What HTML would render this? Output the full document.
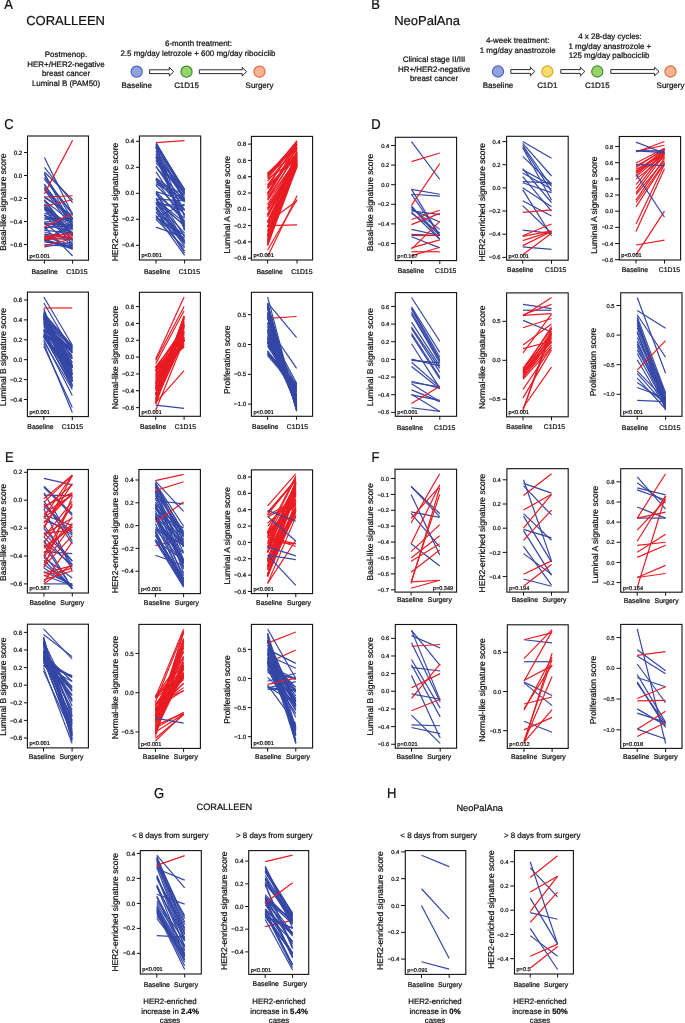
<!DOCTYPE html>
<html><head><meta charset="utf-8"><style>
html,body{margin:0;padding:0;background:#fff;}
svg{display:block;will-change:transform;}
text{text-rendering:geometricPrecision;font-family:"Liberation Sans", sans-serif;fill:#111;stroke:#111;stroke-width:0.22px;}
</style></head><body>
<svg width="685" height="1023" viewBox="0 0 685 1023">
<rect width="685" height="1023" fill="#fff"/>
<text transform="translate(4.2 9.4) scale(1 1.1)" font-size="13">A</text>
<text x="26.20" y="24.90" font-size="13" text-anchor="start">CORALLEEN</text>
<text x="66.00" y="57.20" font-size="7.95" text-anchor="middle">Postmenop.</text>
<text x="66.00" y="66.75" font-size="7.95" text-anchor="middle">HER+/HER2-negative</text>
<text x="66.00" y="76.30" font-size="7.95" text-anchor="middle">breast cancer</text>
<text x="66.00" y="85.85" font-size="7.95" text-anchor="middle">Luminal B (PAM50)</text>
<text x="198.50" y="46.20" font-size="7.95" text-anchor="middle">6-month treatment:</text>
<text x="198.00" y="55.60" font-size="7.95" text-anchor="middle">2.5 mg/day letrozole + 600 mg/day ribociclib</text>
<circle cx="136.7" cy="71.7" r="5.6" fill="#8fa3dc" stroke="#4a62b8" stroke-width="1.1"/>
<circle cx="186.5" cy="71.7" r="5.6" fill="#97d46e" stroke="#3f8a2a" stroke-width="1.1"/>
<circle cx="259.5" cy="71.7" r="5.6" fill="#f4b493" stroke="#e0673a" stroke-width="1.1"/>
<polygon points="149.60,69.80 169.30,69.80 169.30,67.40 173.70,71.70 169.30,76.00 169.30,73.60 149.60,73.60" fill="#fff" stroke="#111" stroke-width="0.9"/>
<polygon points="199.30,69.80 242.20,69.80 242.20,67.40 246.60,71.70 242.20,76.00 242.20,73.60 199.30,73.60" fill="#fff" stroke="#111" stroke-width="0.9"/>
<text x="136.70" y="88.20" font-size="7.95" text-anchor="middle">Baseline</text>
<text x="186.50" y="88.20" font-size="7.95" text-anchor="middle">C1D15</text>
<text x="259.50" y="88.20" font-size="7.95" text-anchor="middle">Surgery</text>
<text transform="translate(371.2 9.4) scale(1 1.1)" font-size="13">B</text>
<text x="394.20" y="25.40" font-size="13" text-anchor="start">NeoPalAna</text>
<text x="434.00" y="62.30" font-size="7.95" text-anchor="middle">Clinical stage II/III</text>
<text x="434.00" y="71.60" font-size="7.95" text-anchor="middle">HR+/HER2-negative</text>
<text x="434.00" y="80.90" font-size="7.95" text-anchor="middle">breast cancer</text>
<text x="517.70" y="42.80" font-size="7.95" text-anchor="middle">4-week treatment:</text>
<text x="517.70" y="52.80" font-size="7.95" text-anchor="middle">1 mg/day anastrozole</text>
<text x="610.00" y="39.10" font-size="7.95" text-anchor="middle">4 x 28-day cycles:</text>
<text x="609.80" y="48.60" font-size="7.95" text-anchor="middle">1 mg/day anastrozole +</text>
<text x="609.00" y="57.90" font-size="7.95" text-anchor="middle">125 mg/day palbociclib</text>
<circle cx="498" cy="71.5" r="5.6" fill="#8fa3dc" stroke="#4a62b8" stroke-width="1.1"/>
<circle cx="547.3" cy="71.5" r="5.6" fill="#f8dc6a" stroke="#d9a520" stroke-width="1.1"/>
<circle cx="597.3" cy="71.5" r="5.6" fill="#97d46e" stroke="#3f8a2a" stroke-width="1.1"/>
<circle cx="670.5" cy="71.5" r="5.6" fill="#f4b493" stroke="#e0673a" stroke-width="1.1"/>
<polygon points="510.80,69.60 530.40,69.60 530.40,67.20 534.80,71.50 530.40,75.80 530.40,73.40 510.80,73.40" fill="#fff" stroke="#111" stroke-width="0.9"/>
<polygon points="560.80,69.60 580.40,69.60 580.40,67.20 584.80,71.50 580.40,75.80 580.40,73.40 560.80,73.40" fill="#fff" stroke="#111" stroke-width="0.9"/>
<polygon points="610.80,69.60 654.60,69.60 654.60,67.20 659.00,71.50 654.60,75.80 654.60,73.40 610.80,73.40" fill="#fff" stroke="#111" stroke-width="0.9"/>
<text x="498.00" y="88.40" font-size="7.95" text-anchor="middle">Baseline</text>
<text x="547.30" y="88.40" font-size="7.95" text-anchor="middle">C1D1</text>
<text x="597.30" y="88.40" font-size="7.95" text-anchor="middle">C1D15</text>
<text x="670.50" y="88.40" font-size="7.95" text-anchor="middle">Surgery</text>
<text transform="translate(4.2 129.4) scale(1 1.1)" font-size="13">C</text>
<text transform="translate(371.3 129.4) scale(1 1.1)" font-size="13">D</text>
<text transform="translate(4.9 461.7) scale(1 1.1)" font-size="13">E</text>
<text transform="translate(371.6 461.9) scale(1 1.1)" font-size="13">F</text>
<text transform="translate(153.9 798.4) scale(1 1.1)" font-size="13">G</text>
<text transform="translate(387.0 798.4) scale(1 1.1)" font-size="13">H</text>
<text x="196.50" y="809.50" font-size="9.2" text-anchor="start">CORALLEEN</text>
<text x="456.40" y="810.50" font-size="9.2" text-anchor="start">NeoPalAna</text>
<text x="170.20" y="838.40" font-size="7.9" text-anchor="middle">&lt; 8 days from surgery</text>
<text x="274.30" y="838.40" font-size="7.9" text-anchor="middle">&gt; 8 days from surgery</text>
<text x="438.60" y="838.40" font-size="7.9" text-anchor="middle">&lt; 8 days from surgery</text>
<text x="542.20" y="838.40" font-size="7.9" text-anchor="middle">&gt; 8 days from surgery</text>
<text x="170.00" y="1003.60" font-size="7.8" text-anchor="middle">HER2-enriched</text>
<text x="170" y="1013.7" font-size="7.8" text-anchor="middle">increase in <tspan font-weight="bold">2.4%</tspan></text>
<text x="170.00" y="1023.20" font-size="7.8" text-anchor="middle">cases</text>
<text x="279.00" y="1003.60" font-size="7.8" text-anchor="middle">HER2-enriched</text>
<text x="279" y="1013.7" font-size="7.8" text-anchor="middle">increase in <tspan font-weight="bold">5.4%</tspan></text>
<text x="279.00" y="1023.20" font-size="7.8" text-anchor="middle">cases</text>
<text x="435.00" y="1003.60" font-size="7.8" text-anchor="middle">HER2-enriched</text>
<text x="435" y="1013.7" font-size="7.8" text-anchor="middle">increase in <tspan font-weight="bold">0%</tspan></text>
<text x="435.00" y="1023.20" font-size="7.8" text-anchor="middle">cases</text>
<text x="540.00" y="1003.60" font-size="7.8" text-anchor="middle">HER2-enriched</text>
<text x="540" y="1013.7" font-size="7.8" text-anchor="middle">increase in <tspan font-weight="bold">50%</tspan></text>
<text x="540.00" y="1023.20" font-size="7.8" text-anchor="middle">cases</text>
<line x1="44.40" y1="227.25" x2="72.60" y2="256.00" stroke="#3447a5" stroke-width="1.2"/>
<line x1="44.40" y1="213.23" x2="72.60" y2="221.98" stroke="#3447a5" stroke-width="1.2"/>
<line x1="44.40" y1="246.80" x2="72.60" y2="242.20" stroke="#3447a5" stroke-width="1.2"/>
<line x1="44.40" y1="172.05" x2="72.60" y2="199.65" stroke="#3447a5" stroke-width="1.2"/>
<line x1="44.40" y1="215.21" x2="72.60" y2="230.03" stroke="#3447a5" stroke-width="1.2"/>
<line x1="44.40" y1="179.11" x2="72.60" y2="214.18" stroke="#3447a5" stroke-width="1.2"/>
<line x1="44.40" y1="207.52" x2="72.60" y2="233.72" stroke="#3447a5" stroke-width="1.2"/>
<line x1="44.40" y1="177.14" x2="72.60" y2="213.70" stroke="#3447a5" stroke-width="1.2"/>
<line x1="44.40" y1="197.55" x2="72.60" y2="215.49" stroke="#3447a5" stroke-width="1.2"/>
<line x1="44.40" y1="200.41" x2="72.60" y2="222.39" stroke="#3447a5" stroke-width="1.2"/>
<line x1="44.40" y1="199.59" x2="72.60" y2="235.86" stroke="#3447a5" stroke-width="1.2"/>
<line x1="44.40" y1="204.86" x2="72.60" y2="228.38" stroke="#3447a5" stroke-width="1.2"/>
<line x1="44.40" y1="219.27" x2="72.60" y2="220.00" stroke="#3447a5" stroke-width="1.2"/>
<line x1="44.40" y1="157.56" x2="72.60" y2="214.60" stroke="#3447a5" stroke-width="1.2"/>
<line x1="44.40" y1="209.49" x2="72.60" y2="244.66" stroke="#3447a5" stroke-width="1.2"/>
<line x1="44.40" y1="222.82" x2="72.60" y2="245.91" stroke="#3447a5" stroke-width="1.2"/>
<line x1="44.40" y1="206.71" x2="72.60" y2="234.97" stroke="#3447a5" stroke-width="1.2"/>
<line x1="44.40" y1="244.50" x2="72.60" y2="246.80" stroke="#3447a5" stroke-width="1.2"/>
<line x1="44.40" y1="235.96" x2="72.60" y2="245.49" stroke="#3447a5" stroke-width="1.2"/>
<line x1="44.40" y1="238.24" x2="72.60" y2="239.65" stroke="#3447a5" stroke-width="1.2"/>
<line x1="44.40" y1="240.50" x2="72.60" y2="223.41" stroke="#3447a5" stroke-width="1.2"/>
<line x1="44.40" y1="234.09" x2="72.60" y2="238.70" stroke="#3447a5" stroke-width="1.2"/>
<line x1="44.40" y1="214.58" x2="72.60" y2="244.07" stroke="#3447a5" stroke-width="1.2"/>
<line x1="44.40" y1="232.03" x2="72.60" y2="240.00" stroke="#3447a5" stroke-width="1.2"/>
<line x1="44.40" y1="234.55" x2="72.60" y2="249.42" stroke="#3447a5" stroke-width="1.2"/>
<line x1="44.40" y1="185.27" x2="72.60" y2="220.10" stroke="#3447a5" stroke-width="1.2"/>
<line x1="44.40" y1="239.50" x2="72.60" y2="247.28" stroke="#3447a5" stroke-width="1.2"/>
<line x1="44.40" y1="201.21" x2="72.60" y2="234.86" stroke="#3447a5" stroke-width="1.2"/>
<line x1="44.40" y1="241.29" x2="72.60" y2="225.81" stroke="#3447a5" stroke-width="1.2"/>
<line x1="44.40" y1="241.91" x2="72.60" y2="245.94" stroke="#3447a5" stroke-width="1.2"/>
<line x1="44.40" y1="236.37" x2="72.60" y2="233.46" stroke="#3447a5" stroke-width="1.2"/>
<line x1="44.40" y1="240.39" x2="72.60" y2="248.81" stroke="#3447a5" stroke-width="1.2"/>
<line x1="44.40" y1="217.13" x2="72.60" y2="219.34" stroke="#3447a5" stroke-width="1.2"/>
<line x1="44.40" y1="223.82" x2="72.60" y2="225.66" stroke="#3447a5" stroke-width="1.2"/>
<line x1="44.40" y1="173.20" x2="72.60" y2="227.25" stroke="#3447a5" stroke-width="1.2"/>
<line x1="44.40" y1="189.69" x2="72.60" y2="228.91" stroke="#3447a5" stroke-width="1.2"/>
<line x1="44.40" y1="229.10" x2="72.60" y2="218.46" stroke="#3447a5" stroke-width="1.2"/>
<line x1="44.40" y1="184.12" x2="72.60" y2="226.44" stroke="#3447a5" stroke-width="1.2"/>
<line x1="44.40" y1="204.68" x2="72.60" y2="236.05" stroke="#3447a5" stroke-width="1.2"/>
<line x1="44.40" y1="196.27" x2="72.60" y2="217.74" stroke="#3447a5" stroke-width="1.2"/>
<line x1="44.40" y1="224.52" x2="72.60" y2="232.26" stroke="#3447a5" stroke-width="1.2"/>
<line x1="44.40" y1="174.35" x2="72.60" y2="219.20" stroke="#3447a5" stroke-width="1.2"/>
<line x1="44.40" y1="227.66" x2="72.60" y2="225.64" stroke="#3447a5" stroke-width="1.2"/>
<line x1="44.40" y1="230.29" x2="72.60" y2="232.80" stroke="#3447a5" stroke-width="1.2"/>
<line x1="44.40" y1="188.19" x2="72.60" y2="224.66" stroke="#3447a5" stroke-width="1.2"/>
<line x1="44.40" y1="204.10" x2="72.60" y2="233.26" stroke="#3447a5" stroke-width="1.2"/>
<line x1="44.40" y1="204.37" x2="72.60" y2="239.78" stroke="#3447a5" stroke-width="1.2"/>
<line x1="44.40" y1="208.26" x2="72.60" y2="241.14" stroke="#3447a5" stroke-width="1.2"/>
<line x1="44.40" y1="215.00" x2="72.60" y2="229.16" stroke="#3447a5" stroke-width="1.2"/>
<line x1="44.40" y1="239.68" x2="72.60" y2="248.02" stroke="#3447a5" stroke-width="1.2"/>
<line x1="44.40" y1="222.16" x2="72.60" y2="218.18" stroke="#3447a5" stroke-width="1.2"/>
<line x1="44.40" y1="240.17" x2="72.60" y2="248.08" stroke="#3447a5" stroke-width="1.2"/>
<line x1="44.40" y1="187.45" x2="72.60" y2="222.11" stroke="#3447a5" stroke-width="1.2"/>
<line x1="44.40" y1="218.80" x2="72.60" y2="218.03" stroke="#3447a5" stroke-width="1.2"/>
<line x1="44.40" y1="167.45" x2="72.60" y2="202.53" stroke="#3447a5" stroke-width="1.2"/>
<line x1="44.40" y1="223.21" x2="72.60" y2="224.44" stroke="#3447a5" stroke-width="1.2"/>
<line x1="44.40" y1="227.13" x2="72.60" y2="213.56" stroke="#ea1b23" stroke-width="1.2"/>
<line x1="44.40" y1="238.18" x2="72.60" y2="235.76" stroke="#ea1b23" stroke-width="1.2"/>
<line x1="44.40" y1="236.45" x2="72.60" y2="233.34" stroke="#ea1b23" stroke-width="1.2"/>
<line x1="44.40" y1="245.65" x2="72.60" y2="238.75" stroke="#ea1b23" stroke-width="1.2"/>
<line x1="44.40" y1="237.60" x2="72.60" y2="233.00" stroke="#ea1b23" stroke-width="1.2"/>
<line x1="44.40" y1="206.21" x2="72.60" y2="199.76" stroke="#ea1b23" stroke-width="1.2"/>
<line x1="44.40" y1="239.90" x2="72.60" y2="237.03" stroke="#ea1b23" stroke-width="1.2"/>
<line x1="44.40" y1="197.00" x2="72.60" y2="195.74" stroke="#ea1b23" stroke-width="1.2"/>
<line x1="44.40" y1="193.90" x2="72.60" y2="140.31" stroke="#ea1b23" stroke-width="1.2"/>
<rect x="27.50" y="136.00" width="61.00" height="124.20" fill="none" stroke="#111" stroke-width="1.1"/>
<line x1="24.00" y1="152.50" x2="27.50" y2="152.50" stroke="#111" stroke-width="1.0"/>
<text x="22.30" y="154.60" font-size="6.2" text-anchor="end">0.2</text>
<line x1="24.00" y1="175.50" x2="27.50" y2="175.50" stroke="#111" stroke-width="1.0"/>
<text x="22.30" y="177.60" font-size="6.2" text-anchor="end">0.0</text>
<line x1="24.00" y1="198.50" x2="27.50" y2="198.50" stroke="#111" stroke-width="1.0"/>
<text x="22.30" y="200.60" font-size="6.2" text-anchor="end">−0.2</text>
<line x1="24.00" y1="221.50" x2="27.50" y2="221.50" stroke="#111" stroke-width="1.0"/>
<text x="22.30" y="223.60" font-size="6.2" text-anchor="end">−0.4</text>
<line x1="24.00" y1="244.50" x2="27.50" y2="244.50" stroke="#111" stroke-width="1.0"/>
<text x="22.30" y="246.60" font-size="6.2" text-anchor="end">−0.6</text>
<line x1="44.40" y1="260.20" x2="44.40" y2="263.70" stroke="#111" stroke-width="1.0"/>
<line x1="72.60" y1="260.20" x2="72.60" y2="263.70" stroke="#111" stroke-width="1.0"/>
<text x="44.65" y="273.60" font-size="6.85" text-anchor="middle">Baseline</text>
<text x="77.00" y="273.60" font-size="6.85" text-anchor="middle">C1D15</text>
<text x="6.40" y="202.10" font-size="8.5" text-anchor="middle" transform="rotate(-90 6.40 202.10)">Basal-like signature score</text>
<text x="29.50" y="257.60" font-size="5.6" text-anchor="start">p&lt;0.001</text>
<line x1="156.00" y1="153.64" x2="184.60" y2="229.26" stroke="#3447a5" stroke-width="1.2"/>
<line x1="156.00" y1="193.24" x2="184.60" y2="242.17" stroke="#3447a5" stroke-width="1.2"/>
<line x1="156.00" y1="158.00" x2="184.60" y2="189.95" stroke="#3447a5" stroke-width="1.2"/>
<line x1="156.00" y1="203.76" x2="184.60" y2="243.46" stroke="#3447a5" stroke-width="1.2"/>
<line x1="156.00" y1="154.46" x2="184.60" y2="193.83" stroke="#3447a5" stroke-width="1.2"/>
<line x1="156.00" y1="183.86" x2="184.60" y2="199.15" stroke="#3447a5" stroke-width="1.2"/>
<line x1="156.00" y1="219.30" x2="184.60" y2="247.90" stroke="#3447a5" stroke-width="1.2"/>
<line x1="156.00" y1="157.07" x2="184.60" y2="199.17" stroke="#3447a5" stroke-width="1.2"/>
<line x1="156.00" y1="178.80" x2="184.60" y2="209.93" stroke="#3447a5" stroke-width="1.2"/>
<line x1="156.00" y1="144.16" x2="184.60" y2="189.35" stroke="#3447a5" stroke-width="1.2"/>
<line x1="156.00" y1="202.06" x2="184.60" y2="225.11" stroke="#3447a5" stroke-width="1.2"/>
<line x1="156.00" y1="204.34" x2="184.60" y2="205.63" stroke="#3447a5" stroke-width="1.2"/>
<line x1="156.00" y1="217.18" x2="184.60" y2="238.36" stroke="#3447a5" stroke-width="1.2"/>
<line x1="156.00" y1="206.60" x2="184.60" y2="246.40" stroke="#3447a5" stroke-width="1.2"/>
<line x1="156.00" y1="179.13" x2="184.60" y2="210.42" stroke="#3447a5" stroke-width="1.2"/>
<line x1="156.00" y1="227.10" x2="184.60" y2="237.50" stroke="#3447a5" stroke-width="1.2"/>
<line x1="156.00" y1="144.40" x2="184.60" y2="191.49" stroke="#3447a5" stroke-width="1.2"/>
<line x1="156.00" y1="212.77" x2="184.60" y2="235.28" stroke="#3447a5" stroke-width="1.2"/>
<line x1="156.00" y1="146.98" x2="184.60" y2="230.62" stroke="#3447a5" stroke-width="1.2"/>
<line x1="156.00" y1="146.56" x2="184.60" y2="226.59" stroke="#3447a5" stroke-width="1.2"/>
<line x1="156.00" y1="142.60" x2="184.60" y2="140.65" stroke="#ea1b23" stroke-width="1.2"/>
<line x1="156.00" y1="163.03" x2="184.60" y2="192.33" stroke="#3447a5" stroke-width="1.2"/>
<line x1="156.00" y1="166.35" x2="184.60" y2="209.72" stroke="#3447a5" stroke-width="1.2"/>
<line x1="156.00" y1="191.57" x2="184.60" y2="200.43" stroke="#3447a5" stroke-width="1.2"/>
<line x1="156.00" y1="199.59" x2="184.60" y2="226.23" stroke="#3447a5" stroke-width="1.2"/>
<line x1="156.00" y1="160.59" x2="184.60" y2="196.27" stroke="#3447a5" stroke-width="1.2"/>
<line x1="156.00" y1="157.58" x2="184.60" y2="224.17" stroke="#3447a5" stroke-width="1.2"/>
<line x1="156.00" y1="215.40" x2="184.60" y2="255.44" stroke="#3447a5" stroke-width="1.2"/>
<line x1="156.00" y1="182.50" x2="184.60" y2="194.20" stroke="#3447a5" stroke-width="1.2"/>
<line x1="156.00" y1="217.54" x2="184.60" y2="242.49" stroke="#3447a5" stroke-width="1.2"/>
<line x1="156.00" y1="211.53" x2="184.60" y2="250.89" stroke="#3447a5" stroke-width="1.2"/>
<line x1="156.00" y1="156.27" x2="184.60" y2="189.91" stroke="#3447a5" stroke-width="1.2"/>
<line x1="156.00" y1="166.63" x2="184.60" y2="201.97" stroke="#3447a5" stroke-width="1.2"/>
<line x1="156.00" y1="194.23" x2="184.60" y2="218.26" stroke="#3447a5" stroke-width="1.2"/>
<line x1="156.00" y1="148.04" x2="184.60" y2="200.79" stroke="#3447a5" stroke-width="1.2"/>
<line x1="156.00" y1="142.60" x2="184.60" y2="190.70" stroke="#3447a5" stroke-width="1.2"/>
<line x1="156.00" y1="198.05" x2="184.60" y2="243.45" stroke="#3447a5" stroke-width="1.2"/>
<line x1="156.00" y1="185.29" x2="184.60" y2="214.44" stroke="#3447a5" stroke-width="1.2"/>
<line x1="156.00" y1="191.41" x2="184.60" y2="221.26" stroke="#3447a5" stroke-width="1.2"/>
<line x1="156.00" y1="208.15" x2="184.60" y2="240.43" stroke="#3447a5" stroke-width="1.2"/>
<line x1="156.00" y1="207.02" x2="184.60" y2="243.71" stroke="#3447a5" stroke-width="1.2"/>
<line x1="156.00" y1="177.99" x2="184.60" y2="198.26" stroke="#3447a5" stroke-width="1.2"/>
<line x1="156.00" y1="202.34" x2="184.60" y2="210.21" stroke="#3447a5" stroke-width="1.2"/>
<line x1="156.00" y1="179.93" x2="184.60" y2="221.35" stroke="#3447a5" stroke-width="1.2"/>
<line x1="156.00" y1="199.44" x2="184.60" y2="222.62" stroke="#3447a5" stroke-width="1.2"/>
<line x1="156.00" y1="199.17" x2="184.60" y2="200.86" stroke="#3447a5" stroke-width="1.2"/>
<line x1="156.00" y1="217.24" x2="184.60" y2="204.02" stroke="#3447a5" stroke-width="1.2"/>
<line x1="156.00" y1="160.05" x2="184.60" y2="193.85" stroke="#3447a5" stroke-width="1.2"/>
<line x1="156.00" y1="202.05" x2="184.60" y2="240.97" stroke="#3447a5" stroke-width="1.2"/>
<line x1="156.00" y1="144.88" x2="184.60" y2="194.16" stroke="#3447a5" stroke-width="1.2"/>
<line x1="156.00" y1="171.84" x2="184.60" y2="214.64" stroke="#3447a5" stroke-width="1.2"/>
<line x1="156.00" y1="179.14" x2="184.60" y2="201.53" stroke="#3447a5" stroke-width="1.2"/>
<line x1="156.00" y1="208.90" x2="184.60" y2="253.10" stroke="#3447a5" stroke-width="1.2"/>
<line x1="156.00" y1="145.20" x2="184.60" y2="199.80" stroke="#3447a5" stroke-width="1.2"/>
<line x1="156.00" y1="146.67" x2="184.60" y2="216.85" stroke="#3447a5" stroke-width="1.2"/>
<line x1="156.00" y1="202.53" x2="184.60" y2="233.14" stroke="#3447a5" stroke-width="1.2"/>
<line x1="156.00" y1="192.26" x2="184.60" y2="236.48" stroke="#3447a5" stroke-width="1.2"/>
<line x1="156.00" y1="217.10" x2="184.60" y2="235.76" stroke="#3447a5" stroke-width="1.2"/>
<line x1="156.00" y1="150.83" x2="184.60" y2="229.48" stroke="#3447a5" stroke-width="1.2"/>
<rect x="139.40" y="136.00" width="61.30" height="124.00" fill="none" stroke="#111" stroke-width="1.1"/>
<line x1="135.90" y1="141.30" x2="139.40" y2="141.30" stroke="#111" stroke-width="1.0"/>
<text x="134.20" y="143.40" font-size="6.2" text-anchor="end">0.4</text>
<line x1="135.90" y1="167.30" x2="139.40" y2="167.30" stroke="#111" stroke-width="1.0"/>
<text x="134.20" y="169.40" font-size="6.2" text-anchor="end">0.2</text>
<line x1="135.90" y1="193.30" x2="139.40" y2="193.30" stroke="#111" stroke-width="1.0"/>
<text x="134.20" y="195.40" font-size="6.2" text-anchor="end">0.0</text>
<line x1="135.90" y1="219.30" x2="139.40" y2="219.30" stroke="#111" stroke-width="1.0"/>
<text x="134.20" y="221.40" font-size="6.2" text-anchor="end">−0.2</text>
<line x1="135.90" y1="245.30" x2="139.40" y2="245.30" stroke="#111" stroke-width="1.0"/>
<text x="134.20" y="247.40" font-size="6.2" text-anchor="end">−0.4</text>
<line x1="156.00" y1="260.00" x2="156.00" y2="263.50" stroke="#111" stroke-width="1.0"/>
<line x1="184.60" y1="260.00" x2="184.60" y2="263.50" stroke="#111" stroke-width="1.0"/>
<text x="157.10" y="273.50" font-size="6.85" text-anchor="middle">Baseline</text>
<text x="189.30" y="273.50" font-size="6.85" text-anchor="middle">C1D15</text>
<text x="118.30" y="202.00" font-size="8.5" text-anchor="middle" transform="rotate(-90 118.30 202.00)">HER2-enriched signature score</text>
<text x="141.40" y="257.40" font-size="5.6" text-anchor="start">p&lt;0.001</text>
<line x1="267.60" y1="214.65" x2="297.00" y2="165.04" stroke="#ea1b23" stroke-width="1.2"/>
<line x1="267.60" y1="215.11" x2="297.00" y2="155.40" stroke="#ea1b23" stroke-width="1.2"/>
<line x1="267.60" y1="241.40" x2="297.00" y2="165.47" stroke="#ea1b23" stroke-width="1.2"/>
<line x1="267.60" y1="226.64" x2="297.00" y2="160.57" stroke="#ea1b23" stroke-width="1.2"/>
<line x1="267.60" y1="199.53" x2="297.00" y2="152.88" stroke="#ea1b23" stroke-width="1.2"/>
<line x1="267.60" y1="236.14" x2="297.00" y2="161.54" stroke="#ea1b23" stroke-width="1.2"/>
<line x1="267.60" y1="232.21" x2="297.00" y2="158.61" stroke="#ea1b23" stroke-width="1.2"/>
<line x1="267.60" y1="243.84" x2="297.00" y2="154.83" stroke="#ea1b23" stroke-width="1.2"/>
<line x1="267.60" y1="245.34" x2="297.00" y2="156.13" stroke="#ea1b23" stroke-width="1.2"/>
<line x1="267.60" y1="235.66" x2="297.00" y2="164.09" stroke="#ea1b23" stroke-width="1.2"/>
<line x1="267.60" y1="197.61" x2="297.00" y2="153.42" stroke="#ea1b23" stroke-width="1.2"/>
<line x1="267.60" y1="215.34" x2="297.00" y2="162.57" stroke="#ea1b23" stroke-width="1.2"/>
<line x1="267.60" y1="194.62" x2="297.00" y2="148.59" stroke="#ea1b23" stroke-width="1.2"/>
<line x1="267.60" y1="174.41" x2="297.00" y2="142.22" stroke="#ea1b23" stroke-width="1.2"/>
<line x1="267.60" y1="242.00" x2="297.00" y2="165.14" stroke="#ea1b23" stroke-width="1.2"/>
<line x1="267.60" y1="176.89" x2="297.00" y2="140.74" stroke="#ea1b23" stroke-width="1.2"/>
<line x1="267.60" y1="208.63" x2="297.00" y2="157.66" stroke="#ea1b23" stroke-width="1.2"/>
<line x1="267.60" y1="217.12" x2="297.00" y2="156.44" stroke="#ea1b23" stroke-width="1.2"/>
<line x1="267.60" y1="234.76" x2="297.00" y2="152.18" stroke="#ea1b23" stroke-width="1.2"/>
<line x1="267.60" y1="238.98" x2="297.00" y2="161.87" stroke="#ea1b23" stroke-width="1.2"/>
<line x1="267.60" y1="178.32" x2="297.00" y2="143.93" stroke="#ea1b23" stroke-width="1.2"/>
<line x1="267.60" y1="208.38" x2="297.00" y2="163.46" stroke="#ea1b23" stroke-width="1.2"/>
<line x1="267.60" y1="222.34" x2="297.00" y2="200.74" stroke="#ea1b23" stroke-width="1.2"/>
<line x1="267.60" y1="200.31" x2="297.00" y2="159.19" stroke="#ea1b23" stroke-width="1.2"/>
<line x1="267.60" y1="213.98" x2="297.00" y2="160.25" stroke="#ea1b23" stroke-width="1.2"/>
<line x1="267.60" y1="187.08" x2="297.00" y2="142.01" stroke="#ea1b23" stroke-width="1.2"/>
<line x1="267.60" y1="193.00" x2="297.00" y2="144.68" stroke="#ea1b23" stroke-width="1.2"/>
<line x1="267.60" y1="223.06" x2="297.00" y2="165.58" stroke="#ea1b23" stroke-width="1.2"/>
<line x1="267.60" y1="185.78" x2="297.00" y2="157.67" stroke="#ea1b23" stroke-width="1.2"/>
<line x1="267.60" y1="181.03" x2="297.00" y2="147.17" stroke="#ea1b23" stroke-width="1.2"/>
<line x1="267.60" y1="256.57" x2="297.00" y2="195.69" stroke="#ea1b23" stroke-width="1.2"/>
<line x1="267.60" y1="221.53" x2="297.00" y2="157.79" stroke="#ea1b23" stroke-width="1.2"/>
<line x1="267.60" y1="230.43" x2="297.00" y2="164.00" stroke="#ea1b23" stroke-width="1.2"/>
<line x1="267.60" y1="227.01" x2="297.00" y2="162.18" stroke="#ea1b23" stroke-width="1.2"/>
<line x1="267.60" y1="245.44" x2="297.00" y2="166.51" stroke="#ea1b23" stroke-width="1.2"/>
<line x1="267.60" y1="195.52" x2="297.00" y2="147.38" stroke="#ea1b23" stroke-width="1.2"/>
<line x1="267.60" y1="205.52" x2="297.00" y2="163.48" stroke="#ea1b23" stroke-width="1.2"/>
<line x1="267.60" y1="188.76" x2="297.00" y2="153.59" stroke="#ea1b23" stroke-width="1.2"/>
<line x1="267.60" y1="235.29" x2="297.00" y2="152.23" stroke="#ea1b23" stroke-width="1.2"/>
<line x1="267.60" y1="250.05" x2="297.00" y2="199.52" stroke="#ea1b23" stroke-width="1.2"/>
<line x1="267.60" y1="173.05" x2="297.00" y2="146.68" stroke="#ea1b23" stroke-width="1.2"/>
<line x1="267.60" y1="188.06" x2="297.00" y2="153.73" stroke="#ea1b23" stroke-width="1.2"/>
<line x1="267.60" y1="173.41" x2="297.00" y2="154.27" stroke="#ea1b23" stroke-width="1.2"/>
<line x1="267.60" y1="227.53" x2="297.00" y2="149.97" stroke="#ea1b23" stroke-width="1.2"/>
<line x1="267.60" y1="174.72" x2="297.00" y2="144.10" stroke="#ea1b23" stroke-width="1.2"/>
<line x1="267.60" y1="178.90" x2="297.00" y2="158.79" stroke="#ea1b23" stroke-width="1.2"/>
<line x1="267.60" y1="225.60" x2="297.00" y2="224.79" stroke="#ea1b23" stroke-width="1.2"/>
<line x1="267.60" y1="237.14" x2="297.00" y2="166.44" stroke="#ea1b23" stroke-width="1.2"/>
<line x1="267.60" y1="222.10" x2="297.00" y2="160.11" stroke="#ea1b23" stroke-width="1.2"/>
<line x1="267.60" y1="204.29" x2="297.00" y2="157.88" stroke="#ea1b23" stroke-width="1.2"/>
<line x1="267.60" y1="175.84" x2="297.00" y2="145.10" stroke="#ea1b23" stroke-width="1.2"/>
<line x1="267.60" y1="240.13" x2="297.00" y2="164.69" stroke="#ea1b23" stroke-width="1.2"/>
<line x1="267.60" y1="242.50" x2="297.00" y2="159.78" stroke="#ea1b23" stroke-width="1.2"/>
<line x1="267.60" y1="210.49" x2="297.00" y2="162.62" stroke="#ea1b23" stroke-width="1.2"/>
<line x1="267.60" y1="193.45" x2="297.00" y2="148.09" stroke="#ea1b23" stroke-width="1.2"/>
<line x1="267.60" y1="184.78" x2="297.00" y2="144.74" stroke="#ea1b23" stroke-width="1.2"/>
<rect x="251.40" y="136.40" width="61.20" height="123.60" fill="none" stroke="#111" stroke-width="1.1"/>
<line x1="247.90" y1="144.10" x2="251.40" y2="144.10" stroke="#111" stroke-width="1.0"/>
<text x="246.20" y="146.20" font-size="6.2" text-anchor="end">0.8</text>
<line x1="247.90" y1="160.40" x2="251.40" y2="160.40" stroke="#111" stroke-width="1.0"/>
<text x="246.20" y="162.50" font-size="6.2" text-anchor="end">0.6</text>
<line x1="247.90" y1="176.70" x2="251.40" y2="176.70" stroke="#111" stroke-width="1.0"/>
<text x="246.20" y="178.80" font-size="6.2" text-anchor="end">0.4</text>
<line x1="247.90" y1="193.00" x2="251.40" y2="193.00" stroke="#111" stroke-width="1.0"/>
<text x="246.20" y="195.10" font-size="6.2" text-anchor="end">0.2</text>
<line x1="247.90" y1="209.30" x2="251.40" y2="209.30" stroke="#111" stroke-width="1.0"/>
<text x="246.20" y="211.40" font-size="6.2" text-anchor="end">0.0</text>
<line x1="247.90" y1="225.60" x2="251.40" y2="225.60" stroke="#111" stroke-width="1.0"/>
<text x="246.20" y="227.70" font-size="6.2" text-anchor="end">−0.2</text>
<line x1="247.90" y1="241.90" x2="251.40" y2="241.90" stroke="#111" stroke-width="1.0"/>
<text x="246.20" y="244.00" font-size="6.2" text-anchor="end">−0.4</text>
<line x1="247.90" y1="258.20" x2="251.40" y2="258.20" stroke="#111" stroke-width="1.0"/>
<text x="246.20" y="260.30" font-size="6.2" text-anchor="end">−0.6</text>
<line x1="267.60" y1="260.00" x2="267.60" y2="263.50" stroke="#111" stroke-width="1.0"/>
<line x1="297.00" y1="260.00" x2="297.00" y2="263.50" stroke="#111" stroke-width="1.0"/>
<text x="269.65" y="273.50" font-size="6.85" text-anchor="middle">Baseline</text>
<text x="301.80" y="273.50" font-size="6.85" text-anchor="middle">C1D15</text>
<text x="230.30" y="204.70" font-size="8.5" text-anchor="middle" transform="rotate(-90 230.30 204.70)">Luminal A signature score</text>
<text x="253.40" y="257.40" font-size="5.6" text-anchor="start">p&lt;0.001</text>
<line x1="43.80" y1="315.73" x2="72.30" y2="380.78" stroke="#3447a5" stroke-width="1.2"/>
<line x1="43.80" y1="334.82" x2="72.30" y2="387.56" stroke="#3447a5" stroke-width="1.2"/>
<line x1="43.80" y1="339.80" x2="72.30" y2="395.52" stroke="#3447a5" stroke-width="1.2"/>
<line x1="43.80" y1="317.49" x2="72.30" y2="346.66" stroke="#3447a5" stroke-width="1.2"/>
<line x1="43.80" y1="322.75" x2="72.30" y2="366.73" stroke="#3447a5" stroke-width="1.2"/>
<line x1="43.80" y1="318.13" x2="72.30" y2="370.54" stroke="#3447a5" stroke-width="1.2"/>
<line x1="43.80" y1="335.50" x2="72.30" y2="374.74" stroke="#3447a5" stroke-width="1.2"/>
<line x1="43.80" y1="323.51" x2="72.30" y2="365.19" stroke="#3447a5" stroke-width="1.2"/>
<line x1="43.80" y1="319.12" x2="72.30" y2="381.73" stroke="#3447a5" stroke-width="1.2"/>
<line x1="43.80" y1="335.84" x2="72.30" y2="385.55" stroke="#3447a5" stroke-width="1.2"/>
<line x1="43.80" y1="320.86" x2="72.30" y2="372.53" stroke="#3447a5" stroke-width="1.2"/>
<line x1="43.80" y1="314.00" x2="72.30" y2="374.25" stroke="#3447a5" stroke-width="1.2"/>
<line x1="43.80" y1="317.75" x2="72.30" y2="352.33" stroke="#3447a5" stroke-width="1.2"/>
<line x1="43.80" y1="322.80" x2="72.30" y2="353.12" stroke="#3447a5" stroke-width="1.2"/>
<line x1="43.80" y1="317.40" x2="72.30" y2="357.48" stroke="#3447a5" stroke-width="1.2"/>
<line x1="43.80" y1="343.78" x2="72.30" y2="412.44" stroke="#3447a5" stroke-width="1.2"/>
<line x1="43.80" y1="327.04" x2="72.30" y2="349.94" stroke="#3447a5" stroke-width="1.2"/>
<line x1="43.80" y1="315.62" x2="72.30" y2="375.61" stroke="#3447a5" stroke-width="1.2"/>
<line x1="43.80" y1="330.95" x2="72.30" y2="381.16" stroke="#3447a5" stroke-width="1.2"/>
<line x1="43.80" y1="316.04" x2="72.30" y2="367.54" stroke="#3447a5" stroke-width="1.2"/>
<line x1="43.80" y1="313.14" x2="72.30" y2="345.82" stroke="#3447a5" stroke-width="1.2"/>
<line x1="43.80" y1="323.07" x2="72.30" y2="386.42" stroke="#3447a5" stroke-width="1.2"/>
<line x1="43.80" y1="328.72" x2="72.30" y2="359.00" stroke="#3447a5" stroke-width="1.2"/>
<line x1="43.80" y1="319.39" x2="72.30" y2="347.99" stroke="#3447a5" stroke-width="1.2"/>
<line x1="43.80" y1="331.68" x2="72.30" y2="366.51" stroke="#3447a5" stroke-width="1.2"/>
<line x1="43.80" y1="329.79" x2="72.30" y2="352.29" stroke="#3447a5" stroke-width="1.2"/>
<line x1="43.80" y1="317.43" x2="72.30" y2="373.67" stroke="#3447a5" stroke-width="1.2"/>
<line x1="43.80" y1="330.28" x2="72.30" y2="368.18" stroke="#3447a5" stroke-width="1.2"/>
<line x1="43.80" y1="329.85" x2="72.30" y2="384.57" stroke="#3447a5" stroke-width="1.2"/>
<line x1="43.80" y1="317.11" x2="72.30" y2="362.53" stroke="#3447a5" stroke-width="1.2"/>
<line x1="43.80" y1="297.01" x2="72.30" y2="344.97" stroke="#3447a5" stroke-width="1.2"/>
<line x1="43.80" y1="318.62" x2="72.30" y2="367.84" stroke="#3447a5" stroke-width="1.2"/>
<line x1="43.80" y1="320.38" x2="72.30" y2="385.85" stroke="#3447a5" stroke-width="1.2"/>
<line x1="43.80" y1="313.79" x2="72.30" y2="347.07" stroke="#3447a5" stroke-width="1.2"/>
<line x1="43.80" y1="311.16" x2="72.30" y2="374.70" stroke="#3447a5" stroke-width="1.2"/>
<line x1="43.80" y1="346.27" x2="72.30" y2="407.46" stroke="#3447a5" stroke-width="1.2"/>
<line x1="43.80" y1="330.23" x2="72.30" y2="348.37" stroke="#3447a5" stroke-width="1.2"/>
<line x1="43.80" y1="321.83" x2="72.30" y2="353.10" stroke="#3447a5" stroke-width="1.2"/>
<line x1="43.80" y1="337.71" x2="72.30" y2="371.38" stroke="#3447a5" stroke-width="1.2"/>
<line x1="43.80" y1="302.99" x2="72.30" y2="351.74" stroke="#3447a5" stroke-width="1.2"/>
<line x1="43.80" y1="314.92" x2="72.30" y2="362.84" stroke="#3447a5" stroke-width="1.2"/>
<line x1="43.80" y1="337.44" x2="72.30" y2="367.61" stroke="#3447a5" stroke-width="1.2"/>
<line x1="43.80" y1="312.86" x2="72.30" y2="380.82" stroke="#3447a5" stroke-width="1.2"/>
<line x1="43.80" y1="336.88" x2="72.30" y2="377.97" stroke="#3447a5" stroke-width="1.2"/>
<line x1="43.80" y1="333.84" x2="72.30" y2="378.00" stroke="#3447a5" stroke-width="1.2"/>
<line x1="43.80" y1="307.96" x2="72.30" y2="307.96" stroke="#ea1b23" stroke-width="1.2"/>
<line x1="43.80" y1="315.82" x2="72.30" y2="378.44" stroke="#3447a5" stroke-width="1.2"/>
<line x1="43.80" y1="321.14" x2="72.30" y2="357.87" stroke="#3447a5" stroke-width="1.2"/>
<line x1="43.80" y1="326.39" x2="72.30" y2="348.77" stroke="#3447a5" stroke-width="1.2"/>
<line x1="43.80" y1="341.79" x2="72.30" y2="389.55" stroke="#3447a5" stroke-width="1.2"/>
<line x1="43.80" y1="336.00" x2="72.30" y2="386.49" stroke="#3447a5" stroke-width="1.2"/>
<line x1="43.80" y1="317.15" x2="72.30" y2="368.23" stroke="#3447a5" stroke-width="1.2"/>
<line x1="43.80" y1="315.47" x2="72.30" y2="347.70" stroke="#3447a5" stroke-width="1.2"/>
<line x1="43.80" y1="312.89" x2="72.30" y2="365.49" stroke="#3447a5" stroke-width="1.2"/>
<line x1="43.80" y1="329.88" x2="72.30" y2="350.11" stroke="#3447a5" stroke-width="1.2"/>
<line x1="43.80" y1="323.20" x2="72.30" y2="355.94" stroke="#3447a5" stroke-width="1.2"/>
<line x1="43.80" y1="319.07" x2="72.30" y2="365.81" stroke="#3447a5" stroke-width="1.2"/>
<line x1="43.80" y1="334.68" x2="72.30" y2="349.79" stroke="#3447a5" stroke-width="1.2"/>
<line x1="43.80" y1="335.59" x2="72.30" y2="350.39" stroke="#3447a5" stroke-width="1.2"/>
<line x1="43.80" y1="308.68" x2="72.30" y2="381.67" stroke="#3447a5" stroke-width="1.2"/>
<line x1="43.80" y1="333.41" x2="72.30" y2="377.13" stroke="#3447a5" stroke-width="1.2"/>
<line x1="43.80" y1="324.88" x2="72.30" y2="379.60" stroke="#3447a5" stroke-width="1.2"/>
<rect x="27.40" y="292.10" width="61.00" height="124.50" fill="none" stroke="#111" stroke-width="1.1"/>
<line x1="23.90" y1="300.00" x2="27.40" y2="300.00" stroke="#111" stroke-width="1.0"/>
<text x="22.20" y="302.10" font-size="6.2" text-anchor="end">0.6</text>
<line x1="23.90" y1="319.90" x2="27.40" y2="319.90" stroke="#111" stroke-width="1.0"/>
<text x="22.20" y="322.00" font-size="6.2" text-anchor="end">0.4</text>
<line x1="23.90" y1="339.80" x2="27.40" y2="339.80" stroke="#111" stroke-width="1.0"/>
<text x="22.20" y="341.90" font-size="6.2" text-anchor="end">0.2</text>
<line x1="23.90" y1="359.70" x2="27.40" y2="359.70" stroke="#111" stroke-width="1.0"/>
<text x="22.20" y="361.80" font-size="6.2" text-anchor="end">0.0</text>
<line x1="23.90" y1="379.60" x2="27.40" y2="379.60" stroke="#111" stroke-width="1.0"/>
<text x="22.20" y="381.70" font-size="6.2" text-anchor="end">−0.2</text>
<line x1="23.90" y1="399.50" x2="27.40" y2="399.50" stroke="#111" stroke-width="1.0"/>
<text x="22.20" y="401.60" font-size="6.2" text-anchor="end">−0.4</text>
<line x1="43.80" y1="416.60" x2="43.80" y2="420.10" stroke="#111" stroke-width="1.0"/>
<line x1="72.30" y1="416.60" x2="72.30" y2="420.10" stroke="#111" stroke-width="1.0"/>
<text x="40.45" y="429.10" font-size="6.85" text-anchor="middle">Baseline</text>
<text x="72.45" y="429.10" font-size="6.85" text-anchor="middle">C1D15</text>
<text x="6.30" y="357.05" font-size="8.5" text-anchor="middle" transform="rotate(-90 6.30 357.05)">Luminal B signature score</text>
<text x="29.40" y="414.00" font-size="5.6" text-anchor="start">p&lt;0.001</text>
<line x1="155.70" y1="373.95" x2="184.10" y2="337.31" stroke="#ea1b23" stroke-width="1.2"/>
<line x1="155.70" y1="398.27" x2="184.10" y2="318.77" stroke="#ea1b23" stroke-width="1.2"/>
<line x1="155.70" y1="360.47" x2="184.10" y2="306.58" stroke="#ea1b23" stroke-width="1.2"/>
<line x1="155.70" y1="381.51" x2="184.10" y2="333.78" stroke="#ea1b23" stroke-width="1.2"/>
<line x1="155.70" y1="379.87" x2="184.10" y2="343.27" stroke="#ea1b23" stroke-width="1.2"/>
<line x1="155.70" y1="395.89" x2="184.10" y2="339.93" stroke="#ea1b23" stroke-width="1.2"/>
<line x1="155.70" y1="386.54" x2="184.10" y2="337.64" stroke="#ea1b23" stroke-width="1.2"/>
<line x1="155.70" y1="369.56" x2="184.10" y2="347.08" stroke="#ea1b23" stroke-width="1.2"/>
<line x1="155.70" y1="376.77" x2="184.10" y2="327.93" stroke="#ea1b23" stroke-width="1.2"/>
<line x1="155.70" y1="403.00" x2="184.10" y2="317.43" stroke="#ea1b23" stroke-width="1.2"/>
<line x1="155.70" y1="410.15" x2="184.10" y2="340.26" stroke="#ea1b23" stroke-width="1.2"/>
<line x1="155.70" y1="375.22" x2="184.10" y2="340.76" stroke="#ea1b23" stroke-width="1.2"/>
<line x1="155.70" y1="366.60" x2="184.10" y2="331.05" stroke="#ea1b23" stroke-width="1.2"/>
<line x1="155.70" y1="384.02" x2="184.10" y2="330.42" stroke="#ea1b23" stroke-width="1.2"/>
<line x1="155.70" y1="393.50" x2="184.10" y2="339.81" stroke="#ea1b23" stroke-width="1.2"/>
<line x1="155.70" y1="363.84" x2="184.10" y2="310.79" stroke="#ea1b23" stroke-width="1.2"/>
<line x1="155.70" y1="404.25" x2="184.10" y2="324.77" stroke="#ea1b23" stroke-width="1.2"/>
<line x1="155.70" y1="367.30" x2="184.10" y2="346.31" stroke="#ea1b23" stroke-width="1.2"/>
<line x1="155.70" y1="401.85" x2="184.10" y2="332.48" stroke="#ea1b23" stroke-width="1.2"/>
<line x1="155.70" y1="371.38" x2="184.10" y2="337.86" stroke="#ea1b23" stroke-width="1.2"/>
<line x1="155.70" y1="372.28" x2="184.10" y2="326.49" stroke="#ea1b23" stroke-width="1.2"/>
<line x1="155.70" y1="376.30" x2="184.10" y2="334.84" stroke="#ea1b23" stroke-width="1.2"/>
<line x1="155.70" y1="366.77" x2="184.10" y2="345.14" stroke="#ea1b23" stroke-width="1.2"/>
<line x1="155.70" y1="382.19" x2="184.10" y2="328.52" stroke="#ea1b23" stroke-width="1.2"/>
<line x1="155.70" y1="402.57" x2="184.10" y2="370.57" stroke="#ea1b23" stroke-width="1.2"/>
<line x1="155.70" y1="359.12" x2="184.10" y2="296.90" stroke="#ea1b23" stroke-width="1.2"/>
<line x1="155.70" y1="389.09" x2="184.10" y2="326.52" stroke="#ea1b23" stroke-width="1.2"/>
<line x1="155.70" y1="374.63" x2="184.10" y2="341.00" stroke="#ea1b23" stroke-width="1.2"/>
<line x1="155.70" y1="385.92" x2="184.10" y2="331.26" stroke="#ea1b23" stroke-width="1.2"/>
<line x1="155.70" y1="367.79" x2="184.10" y2="339.25" stroke="#ea1b23" stroke-width="1.2"/>
<line x1="155.70" y1="371.12" x2="184.10" y2="336.46" stroke="#ea1b23" stroke-width="1.2"/>
<line x1="155.70" y1="394.63" x2="184.10" y2="316.33" stroke="#ea1b23" stroke-width="1.2"/>
<line x1="155.70" y1="405.09" x2="184.10" y2="408.46" stroke="#3447a5" stroke-width="1.2"/>
<line x1="155.70" y1="370.83" x2="184.10" y2="346.71" stroke="#ea1b23" stroke-width="1.2"/>
<line x1="155.70" y1="388.26" x2="184.10" y2="340.17" stroke="#ea1b23" stroke-width="1.2"/>
<line x1="155.70" y1="391.15" x2="184.10" y2="337.45" stroke="#ea1b23" stroke-width="1.2"/>
<line x1="155.70" y1="377.83" x2="184.10" y2="343.78" stroke="#ea1b23" stroke-width="1.2"/>
<line x1="155.70" y1="383.95" x2="184.10" y2="325.29" stroke="#ea1b23" stroke-width="1.2"/>
<line x1="155.70" y1="400.03" x2="184.10" y2="316.56" stroke="#ea1b23" stroke-width="1.2"/>
<line x1="155.70" y1="379.18" x2="184.10" y2="325.55" stroke="#ea1b23" stroke-width="1.2"/>
<line x1="155.70" y1="393.75" x2="184.10" y2="339.88" stroke="#ea1b23" stroke-width="1.2"/>
<line x1="155.70" y1="403.41" x2="184.10" y2="316.28" stroke="#ea1b23" stroke-width="1.2"/>
<line x1="155.70" y1="394.99" x2="184.10" y2="317.60" stroke="#ea1b23" stroke-width="1.2"/>
<line x1="155.70" y1="368.35" x2="184.10" y2="326.79" stroke="#ea1b23" stroke-width="1.2"/>
<line x1="155.70" y1="391.01" x2="184.10" y2="340.24" stroke="#ea1b23" stroke-width="1.2"/>
<line x1="155.70" y1="399.38" x2="184.10" y2="324.57" stroke="#ea1b23" stroke-width="1.2"/>
<line x1="155.70" y1="388.77" x2="184.10" y2="322.76" stroke="#ea1b23" stroke-width="1.2"/>
<line x1="155.70" y1="382.89" x2="184.10" y2="321.58" stroke="#ea1b23" stroke-width="1.2"/>
<line x1="155.70" y1="394.25" x2="184.10" y2="325.78" stroke="#ea1b23" stroke-width="1.2"/>
<line x1="155.70" y1="394.63" x2="184.10" y2="315.98" stroke="#ea1b23" stroke-width="1.2"/>
<line x1="155.70" y1="384.75" x2="184.10" y2="332.01" stroke="#ea1b23" stroke-width="1.2"/>
<line x1="155.70" y1="388.22" x2="184.10" y2="339.41" stroke="#ea1b23" stroke-width="1.2"/>
<line x1="155.70" y1="369.89" x2="184.10" y2="337.57" stroke="#ea1b23" stroke-width="1.2"/>
<line x1="155.70" y1="389.66" x2="184.10" y2="340.07" stroke="#ea1b23" stroke-width="1.2"/>
<line x1="155.70" y1="400.72" x2="184.10" y2="339.08" stroke="#ea1b23" stroke-width="1.2"/>
<line x1="155.70" y1="386.98" x2="184.10" y2="320.83" stroke="#ea1b23" stroke-width="1.2"/>
<line x1="155.70" y1="402.72" x2="184.10" y2="323.46" stroke="#ea1b23" stroke-width="1.2"/>
<line x1="155.70" y1="370.44" x2="184.10" y2="333.80" stroke="#ea1b23" stroke-width="1.2"/>
<rect x="139.40" y="292.30" width="61.00" height="124.00" fill="none" stroke="#111" stroke-width="1.1"/>
<line x1="135.90" y1="306.58" x2="139.40" y2="306.58" stroke="#111" stroke-width="1.0"/>
<text x="134.20" y="308.68" font-size="6.2" text-anchor="end">0.6</text>
<line x1="135.90" y1="323.42" x2="139.40" y2="323.42" stroke="#111" stroke-width="1.0"/>
<text x="134.20" y="325.52" font-size="6.2" text-anchor="end">0.4</text>
<line x1="135.90" y1="340.26" x2="139.40" y2="340.26" stroke="#111" stroke-width="1.0"/>
<text x="134.20" y="342.36" font-size="6.2" text-anchor="end">0.2</text>
<line x1="135.90" y1="357.10" x2="139.40" y2="357.10" stroke="#111" stroke-width="1.0"/>
<text x="134.20" y="359.20" font-size="6.2" text-anchor="end">0.0</text>
<line x1="135.90" y1="373.94" x2="139.40" y2="373.94" stroke="#111" stroke-width="1.0"/>
<text x="134.20" y="376.04" font-size="6.2" text-anchor="end">−0.2</text>
<line x1="135.90" y1="390.78" x2="139.40" y2="390.78" stroke="#111" stroke-width="1.0"/>
<text x="134.20" y="392.88" font-size="6.2" text-anchor="end">−0.4</text>
<line x1="135.90" y1="407.62" x2="139.40" y2="407.62" stroke="#111" stroke-width="1.0"/>
<text x="134.20" y="409.72" font-size="6.2" text-anchor="end">−0.6</text>
<line x1="155.70" y1="416.30" x2="155.70" y2="419.80" stroke="#111" stroke-width="1.0"/>
<line x1="184.10" y1="416.30" x2="184.10" y2="419.80" stroke="#111" stroke-width="1.0"/>
<text x="153.10" y="429.20" font-size="6.85" text-anchor="middle">Baseline</text>
<text x="185.35" y="429.20" font-size="6.85" text-anchor="middle">C1D15</text>
<text x="117.50" y="357.50" font-size="8.5" text-anchor="middle" transform="rotate(-90 117.50 357.50)">Normal-like signature score</text>
<text x="141.40" y="413.70" font-size="5.6" text-anchor="start">p&lt;0.001</text>
<line x1="267.60" y1="308.16" x2="296.60" y2="408.90" stroke="#3447a5" stroke-width="1.2"/>
<line x1="267.60" y1="339.04" x2="296.60" y2="392.08" stroke="#3447a5" stroke-width="1.2"/>
<line x1="267.60" y1="329.65" x2="296.60" y2="400.39" stroke="#3447a5" stroke-width="1.2"/>
<line x1="267.60" y1="330.62" x2="296.60" y2="407.01" stroke="#3447a5" stroke-width="1.2"/>
<line x1="267.60" y1="351.63" x2="296.60" y2="388.27" stroke="#3447a5" stroke-width="1.2"/>
<line x1="267.60" y1="307.21" x2="296.60" y2="406.66" stroke="#3447a5" stroke-width="1.2"/>
<line x1="267.60" y1="354.54" x2="296.60" y2="384.14" stroke="#3447a5" stroke-width="1.2"/>
<line x1="267.60" y1="329.00" x2="296.60" y2="383.24" stroke="#3447a5" stroke-width="1.2"/>
<line x1="267.60" y1="342.51" x2="296.60" y2="395.04" stroke="#3447a5" stroke-width="1.2"/>
<line x1="267.60" y1="322.20" x2="296.60" y2="408.04" stroke="#3447a5" stroke-width="1.2"/>
<line x1="267.60" y1="314.83" x2="296.60" y2="399.44" stroke="#3447a5" stroke-width="1.2"/>
<line x1="267.60" y1="352.50" x2="296.60" y2="390.14" stroke="#3447a5" stroke-width="1.2"/>
<line x1="267.60" y1="336.63" x2="296.60" y2="396.69" stroke="#3447a5" stroke-width="1.2"/>
<line x1="267.60" y1="308.96" x2="296.60" y2="402.63" stroke="#3447a5" stroke-width="1.2"/>
<line x1="267.60" y1="337.84" x2="296.60" y2="401.19" stroke="#3447a5" stroke-width="1.2"/>
<line x1="267.60" y1="331.39" x2="296.60" y2="386.22" stroke="#3447a5" stroke-width="1.2"/>
<line x1="267.60" y1="302.78" x2="296.60" y2="337.59" stroke="#3447a5" stroke-width="1.2"/>
<line x1="267.60" y1="338.44" x2="296.60" y2="396.05" stroke="#3447a5" stroke-width="1.2"/>
<line x1="267.60" y1="315.74" x2="296.60" y2="402.05" stroke="#3447a5" stroke-width="1.2"/>
<line x1="267.60" y1="303.43" x2="296.60" y2="410.03" stroke="#3447a5" stroke-width="1.2"/>
<line x1="267.60" y1="323.61" x2="296.60" y2="397.33" stroke="#3447a5" stroke-width="1.2"/>
<line x1="267.60" y1="318.28" x2="296.60" y2="316.49" stroke="#ea1b23" stroke-width="1.2"/>
<line x1="267.60" y1="355.62" x2="296.60" y2="389.11" stroke="#3447a5" stroke-width="1.2"/>
<line x1="267.60" y1="342.71" x2="296.60" y2="389.80" stroke="#3447a5" stroke-width="1.2"/>
<line x1="267.60" y1="305.02" x2="296.60" y2="405.41" stroke="#3447a5" stroke-width="1.2"/>
<line x1="267.60" y1="338.87" x2="296.60" y2="392.39" stroke="#3447a5" stroke-width="1.2"/>
<line x1="267.60" y1="352.39" x2="296.60" y2="384.74" stroke="#3447a5" stroke-width="1.2"/>
<line x1="267.60" y1="343.42" x2="296.60" y2="386.69" stroke="#3447a5" stroke-width="1.2"/>
<line x1="267.60" y1="333.02" x2="296.60" y2="406.42" stroke="#3447a5" stroke-width="1.2"/>
<line x1="267.60" y1="303.83" x2="296.60" y2="409.67" stroke="#3447a5" stroke-width="1.2"/>
<line x1="267.60" y1="305.07" x2="296.60" y2="411.25" stroke="#3447a5" stroke-width="1.2"/>
<line x1="267.60" y1="314.33" x2="296.60" y2="406.94" stroke="#3447a5" stroke-width="1.2"/>
<line x1="267.60" y1="341.20" x2="296.60" y2="394.70" stroke="#3447a5" stroke-width="1.2"/>
<line x1="267.60" y1="351.36" x2="296.60" y2="386.17" stroke="#3447a5" stroke-width="1.2"/>
<line x1="267.60" y1="341.77" x2="296.60" y2="389.10" stroke="#3447a5" stroke-width="1.2"/>
<line x1="267.60" y1="342.19" x2="296.60" y2="397.18" stroke="#3447a5" stroke-width="1.2"/>
<line x1="267.60" y1="317.81" x2="296.60" y2="407.35" stroke="#3447a5" stroke-width="1.2"/>
<line x1="267.60" y1="338.54" x2="296.60" y2="405.41" stroke="#3447a5" stroke-width="1.2"/>
<line x1="267.60" y1="335.32" x2="296.60" y2="397.67" stroke="#3447a5" stroke-width="1.2"/>
<line x1="267.60" y1="326.02" x2="296.60" y2="368.34" stroke="#3447a5" stroke-width="1.2"/>
<line x1="267.60" y1="345.36" x2="296.60" y2="385.65" stroke="#3447a5" stroke-width="1.2"/>
<line x1="267.60" y1="305.79" x2="296.60" y2="406.61" stroke="#3447a5" stroke-width="1.2"/>
<line x1="267.60" y1="316.65" x2="296.60" y2="403.29" stroke="#3447a5" stroke-width="1.2"/>
<line x1="267.60" y1="326.51" x2="296.60" y2="406.29" stroke="#3447a5" stroke-width="1.2"/>
<line x1="267.60" y1="296.82" x2="296.60" y2="407.08" stroke="#3447a5" stroke-width="1.2"/>
<line x1="267.60" y1="350.71" x2="296.60" y2="396.79" stroke="#3447a5" stroke-width="1.2"/>
<line x1="267.60" y1="312.18" x2="296.60" y2="409.96" stroke="#3447a5" stroke-width="1.2"/>
<line x1="267.60" y1="313.25" x2="296.60" y2="407.69" stroke="#3447a5" stroke-width="1.2"/>
<line x1="267.60" y1="346.12" x2="296.60" y2="391.13" stroke="#3447a5" stroke-width="1.2"/>
<line x1="267.60" y1="323.10" x2="296.60" y2="394.40" stroke="#3447a5" stroke-width="1.2"/>
<line x1="267.60" y1="305.22" x2="296.60" y2="409.17" stroke="#3447a5" stroke-width="1.2"/>
<line x1="267.60" y1="341.38" x2="296.60" y2="401.13" stroke="#3447a5" stroke-width="1.2"/>
<line x1="267.60" y1="307.02" x2="296.60" y2="407.81" stroke="#3447a5" stroke-width="1.2"/>
<line x1="267.60" y1="306.59" x2="296.60" y2="403.39" stroke="#3447a5" stroke-width="1.2"/>
<line x1="267.60" y1="353.98" x2="296.60" y2="387.68" stroke="#3447a5" stroke-width="1.2"/>
<line x1="267.60" y1="315.89" x2="296.60" y2="404.54" stroke="#3447a5" stroke-width="1.2"/>
<line x1="267.60" y1="329.38" x2="296.60" y2="396.07" stroke="#3447a5" stroke-width="1.2"/>
<line x1="267.60" y1="316.18" x2="296.60" y2="409.62" stroke="#3447a5" stroke-width="1.2"/>
<line x1="267.60" y1="318.17" x2="296.60" y2="403.27" stroke="#3447a5" stroke-width="1.2"/>
<line x1="267.60" y1="341.92" x2="296.60" y2="388.90" stroke="#3447a5" stroke-width="1.2"/>
<line x1="267.60" y1="354.03" x2="296.60" y2="384.09" stroke="#3447a5" stroke-width="1.2"/>
<rect x="251.40" y="292.30" width="61.20" height="124.00" fill="none" stroke="#111" stroke-width="1.1"/>
<line x1="247.90" y1="314.70" x2="251.40" y2="314.70" stroke="#111" stroke-width="1.0"/>
<text x="246.20" y="316.80" font-size="6.2" text-anchor="end">0.5</text>
<line x1="247.90" y1="344.50" x2="251.40" y2="344.50" stroke="#111" stroke-width="1.0"/>
<text x="246.20" y="346.60" font-size="6.2" text-anchor="end">0.0</text>
<line x1="247.90" y1="374.30" x2="251.40" y2="374.30" stroke="#111" stroke-width="1.0"/>
<text x="246.20" y="376.40" font-size="6.2" text-anchor="end">−0.5</text>
<line x1="247.90" y1="404.10" x2="251.40" y2="404.10" stroke="#111" stroke-width="1.0"/>
<text x="246.20" y="406.20" font-size="6.2" text-anchor="end">−1.0</text>
<line x1="267.60" y1="416.30" x2="267.60" y2="419.80" stroke="#111" stroke-width="1.0"/>
<line x1="296.60" y1="416.30" x2="296.60" y2="419.80" stroke="#111" stroke-width="1.0"/>
<text x="265.25" y="429.20" font-size="6.85" text-anchor="middle">Baseline</text>
<text x="297.45" y="429.20" font-size="6.85" text-anchor="middle">C1D15</text>
<text x="230.30" y="359.80" font-size="8.5" text-anchor="middle" transform="rotate(-90 230.30 359.80)">Proliferation score</text>
<text x="253.40" y="413.70" font-size="5.6" text-anchor="start">p&lt;0.001</text>
<line x1="411.50" y1="194.27" x2="439.80" y2="235.52" stroke="#3447a5" stroke-width="1.2"/>
<line x1="411.50" y1="212.12" x2="439.80" y2="239.22" stroke="#3447a5" stroke-width="1.2"/>
<line x1="411.50" y1="189.34" x2="439.80" y2="194.27" stroke="#3447a5" stroke-width="1.2"/>
<line x1="411.50" y1="189.34" x2="439.80" y2="235.52" stroke="#3447a5" stroke-width="1.2"/>
<line x1="411.50" y1="141.68" x2="439.80" y2="179.49" stroke="#3447a5" stroke-width="1.2"/>
<line x1="411.50" y1="213.35" x2="439.80" y2="233.06" stroke="#3447a5" stroke-width="1.2"/>
<line x1="411.50" y1="210.89" x2="439.80" y2="214.59" stroke="#3447a5" stroke-width="1.2"/>
<line x1="411.50" y1="209.66" x2="439.80" y2="221.98" stroke="#3447a5" stroke-width="1.2"/>
<line x1="411.50" y1="229.36" x2="439.80" y2="235.52" stroke="#3447a5" stroke-width="1.2"/>
<line x1="411.50" y1="194.27" x2="439.80" y2="196.11" stroke="#3447a5" stroke-width="1.2"/>
<line x1="411.50" y1="236.75" x2="439.80" y2="247.84" stroke="#3447a5" stroke-width="1.2"/>
<line x1="411.50" y1="234.29" x2="439.80" y2="235.52" stroke="#3447a5" stroke-width="1.2"/>
<line x1="411.50" y1="207.20" x2="439.80" y2="235.52" stroke="#3447a5" stroke-width="1.2"/>
<line x1="411.50" y1="205.97" x2="439.80" y2="239.22" stroke="#3447a5" stroke-width="1.2"/>
<line x1="411.50" y1="208.43" x2="439.80" y2="229.36" stroke="#3447a5" stroke-width="1.2"/>
<line x1="411.50" y1="249.07" x2="439.80" y2="221.36" stroke="#ea1b23" stroke-width="1.2"/>
<line x1="411.50" y1="205.35" x2="439.80" y2="163.48" stroke="#ea1b23" stroke-width="1.2"/>
<line x1="411.50" y1="161.63" x2="439.80" y2="153.01" stroke="#ea1b23" stroke-width="1.2"/>
<line x1="411.50" y1="235.52" x2="439.80" y2="235.52" stroke="#ea1b23" stroke-width="1.2"/>
<line x1="411.50" y1="255.84" x2="439.80" y2="247.22" stroke="#ea1b23" stroke-width="1.2"/>
<line x1="411.50" y1="224.68" x2="439.80" y2="213.35" stroke="#ea1b23" stroke-width="1.2"/>
<line x1="411.50" y1="219.51" x2="439.80" y2="210.28" stroke="#ea1b23" stroke-width="1.2"/>
<line x1="411.50" y1="247.84" x2="439.80" y2="239.83" stroke="#ea1b23" stroke-width="1.2"/>
<line x1="411.50" y1="251.78" x2="439.80" y2="251.78" stroke="#ea1b23" stroke-width="1.2"/>
<rect x="395.30" y="137.30" width="61.30" height="123.30" fill="none" stroke="#111" stroke-width="1.1"/>
<line x1="391.10" y1="145.50" x2="395.30" y2="145.50" stroke="#111" stroke-width="1.0"/>
<text x="389.20" y="147.60" font-size="5.8" text-anchor="end">0.4</text>
<line x1="391.10" y1="165.10" x2="395.30" y2="165.10" stroke="#111" stroke-width="1.0"/>
<text x="389.20" y="167.20" font-size="5.8" text-anchor="end">0.2</text>
<line x1="391.10" y1="184.70" x2="395.30" y2="184.70" stroke="#111" stroke-width="1.0"/>
<text x="389.20" y="186.80" font-size="5.8" text-anchor="end">0.0</text>
<line x1="391.10" y1="204.30" x2="395.30" y2="204.30" stroke="#111" stroke-width="1.0"/>
<text x="389.20" y="206.40" font-size="5.8" text-anchor="end">−0.2</text>
<line x1="391.10" y1="223.90" x2="395.30" y2="223.90" stroke="#111" stroke-width="1.0"/>
<text x="389.20" y="226.00" font-size="5.8" text-anchor="end">−0.4</text>
<line x1="391.10" y1="243.50" x2="395.30" y2="243.50" stroke="#111" stroke-width="1.0"/>
<text x="389.20" y="245.60" font-size="5.8" text-anchor="end">−0.6</text>
<line x1="411.50" y1="260.60" x2="411.50" y2="264.10" stroke="#111" stroke-width="1.0"/>
<line x1="439.80" y1="260.60" x2="439.80" y2="264.10" stroke="#111" stroke-width="1.0"/>
<text x="410.90" y="272.60" font-size="6.85" text-anchor="middle">Baseline</text>
<text x="445.60" y="272.60" font-size="6.85" text-anchor="middle">C1D15</text>
<text x="373.20" y="202.55" font-size="8.5" text-anchor="middle" transform="rotate(-90 373.20 202.55)">Basal-like signature score</text>
<text x="397.30" y="258.00" font-size="5.6" text-anchor="start">p=0.167</text>
<line x1="522.70" y1="143.39" x2="551.50" y2="176.02" stroke="#3447a5" stroke-width="1.2"/>
<line x1="522.70" y1="189.57" x2="551.50" y2="235.75" stroke="#3447a5" stroke-width="1.2"/>
<line x1="522.70" y1="181.57" x2="551.50" y2="182.80" stroke="#3447a5" stroke-width="1.2"/>
<line x1="522.70" y1="147.70" x2="551.50" y2="200.04" stroke="#3447a5" stroke-width="1.2"/>
<line x1="522.70" y1="168.64" x2="551.50" y2="202.50" stroke="#3447a5" stroke-width="1.2"/>
<line x1="522.70" y1="145.24" x2="551.50" y2="186.49" stroke="#3447a5" stroke-width="1.2"/>
<line x1="522.70" y1="200.66" x2="551.50" y2="216.05" stroke="#3447a5" stroke-width="1.2"/>
<line x1="522.70" y1="187.72" x2="551.50" y2="206.81" stroke="#3447a5" stroke-width="1.2"/>
<line x1="522.70" y1="172.95" x2="551.50" y2="188.96" stroke="#3447a5" stroke-width="1.2"/>
<line x1="522.70" y1="169.87" x2="551.50" y2="185.26" stroke="#3447a5" stroke-width="1.2"/>
<line x1="522.70" y1="205.58" x2="551.50" y2="233.29" stroke="#3447a5" stroke-width="1.2"/>
<line x1="522.70" y1="230.21" x2="551.50" y2="233.29" stroke="#3447a5" stroke-width="1.2"/>
<line x1="522.70" y1="246.84" x2="551.50" y2="249.30" stroke="#3447a5" stroke-width="1.2"/>
<line x1="522.70" y1="141.54" x2="551.50" y2="158.17" stroke="#3447a5" stroke-width="1.2"/>
<line x1="522.70" y1="182.80" x2="551.50" y2="192.65" stroke="#3447a5" stroke-width="1.2"/>
<line x1="522.70" y1="146.47" x2="551.50" y2="191.42" stroke="#3447a5" stroke-width="1.2"/>
<line x1="522.70" y1="176.64" x2="551.50" y2="211.12" stroke="#3447a5" stroke-width="1.2"/>
<line x1="522.70" y1="156.32" x2="551.50" y2="184.03" stroke="#3447a5" stroke-width="1.2"/>
<line x1="522.70" y1="212.35" x2="551.50" y2="209.89" stroke="#ea1b23" stroke-width="1.2"/>
<line x1="522.70" y1="235.75" x2="551.50" y2="224.05" stroke="#ea1b23" stroke-width="1.2"/>
<line x1="522.70" y1="245.61" x2="551.50" y2="231.44" stroke="#ea1b23" stroke-width="1.2"/>
<line x1="522.70" y1="254.84" x2="551.50" y2="233.29" stroke="#ea1b23" stroke-width="1.2"/>
<line x1="522.70" y1="240.68" x2="551.50" y2="231.44" stroke="#ea1b23" stroke-width="1.2"/>
<line x1="522.70" y1="236.37" x2="551.50" y2="230.83" stroke="#ea1b23" stroke-width="1.2"/>
<rect x="506.60" y="136.30" width="61.60" height="123.90" fill="none" stroke="#111" stroke-width="1.1"/>
<line x1="502.40" y1="141.58" x2="506.60" y2="141.58" stroke="#111" stroke-width="1.0"/>
<text x="500.50" y="143.68" font-size="5.8" text-anchor="end">0.4</text>
<line x1="502.40" y1="164.74" x2="506.60" y2="164.74" stroke="#111" stroke-width="1.0"/>
<text x="500.50" y="166.84" font-size="5.8" text-anchor="end">0.2</text>
<line x1="502.40" y1="187.90" x2="506.60" y2="187.90" stroke="#111" stroke-width="1.0"/>
<text x="500.50" y="190.00" font-size="5.8" text-anchor="end">0.0</text>
<line x1="502.40" y1="211.06" x2="506.60" y2="211.06" stroke="#111" stroke-width="1.0"/>
<text x="500.50" y="213.16" font-size="5.8" text-anchor="end">−0.2</text>
<line x1="502.40" y1="234.22" x2="506.60" y2="234.22" stroke="#111" stroke-width="1.0"/>
<text x="500.50" y="236.32" font-size="5.8" text-anchor="end">−0.4</text>
<line x1="502.40" y1="257.38" x2="506.60" y2="257.38" stroke="#111" stroke-width="1.0"/>
<text x="500.50" y="259.48" font-size="5.8" text-anchor="end">−0.6</text>
<line x1="522.70" y1="260.20" x2="522.70" y2="263.70" stroke="#111" stroke-width="1.0"/>
<line x1="551.50" y1="260.20" x2="551.50" y2="263.70" stroke="#111" stroke-width="1.0"/>
<text x="520.25" y="271.80" font-size="6.85" text-anchor="middle">Baseline</text>
<text x="555.60" y="271.80" font-size="6.85" text-anchor="middle">C1D15</text>
<text x="484.50" y="202.25" font-size="8.5" text-anchor="middle" transform="rotate(-90 484.50 202.25)">HER2-enriched signature score</text>
<text x="508.60" y="257.60" font-size="5.6" text-anchor="start">p&lt;0.001</text>
<line x1="636.00" y1="176.64" x2="664.50" y2="153.24" stroke="#ea1b23" stroke-width="1.2"/>
<line x1="636.00" y1="171.10" x2="664.50" y2="150.78" stroke="#ea1b23" stroke-width="1.2"/>
<line x1="636.00" y1="192.65" x2="664.50" y2="154.47" stroke="#ea1b23" stroke-width="1.2"/>
<line x1="636.00" y1="169.25" x2="664.50" y2="154.47" stroke="#ea1b23" stroke-width="1.2"/>
<line x1="636.00" y1="179.10" x2="664.50" y2="156.94" stroke="#ea1b23" stroke-width="1.2"/>
<line x1="636.00" y1="175.41" x2="664.50" y2="148.32" stroke="#ea1b23" stroke-width="1.2"/>
<line x1="636.00" y1="188.96" x2="664.50" y2="152.01" stroke="#ea1b23" stroke-width="1.2"/>
<line x1="636.00" y1="151.39" x2="664.50" y2="145.24" stroke="#ea1b23" stroke-width="1.2"/>
<line x1="636.00" y1="254.84" x2="664.50" y2="211.12" stroke="#ea1b23" stroke-width="1.2"/>
<line x1="636.00" y1="202.50" x2="664.50" y2="162.48" stroke="#ea1b23" stroke-width="1.2"/>
<line x1="636.00" y1="194.50" x2="664.50" y2="160.63" stroke="#ea1b23" stroke-width="1.2"/>
<line x1="636.00" y1="172.33" x2="664.50" y2="152.01" stroke="#ea1b23" stroke-width="1.2"/>
<line x1="636.00" y1="166.17" x2="664.50" y2="149.55" stroke="#ea1b23" stroke-width="1.2"/>
<line x1="636.00" y1="244.99" x2="664.50" y2="240.06" stroke="#ea1b23" stroke-width="1.2"/>
<line x1="636.00" y1="163.09" x2="664.50" y2="148.32" stroke="#ea1b23" stroke-width="1.2"/>
<line x1="636.00" y1="231.44" x2="664.50" y2="168.64" stroke="#ea1b23" stroke-width="1.2"/>
<line x1="636.00" y1="172.95" x2="664.50" y2="155.70" stroke="#ea1b23" stroke-width="1.2"/>
<line x1="636.00" y1="224.05" x2="664.50" y2="164.33" stroke="#ea1b23" stroke-width="1.2"/>
<line x1="636.00" y1="200.04" x2="664.50" y2="158.17" stroke="#ea1b23" stroke-width="1.2"/>
<line x1="636.00" y1="184.65" x2="664.50" y2="149.55" stroke="#ea1b23" stroke-width="1.2"/>
<line x1="636.00" y1="206.81" x2="664.50" y2="163.09" stroke="#ea1b23" stroke-width="1.2"/>
<line x1="636.00" y1="152.01" x2="664.50" y2="141.54" stroke="#ea1b23" stroke-width="1.2"/>
<line x1="636.00" y1="167.40" x2="664.50" y2="148.93" stroke="#ea1b23" stroke-width="1.2"/>
<line x1="636.00" y1="150.53" x2="664.50" y2="150.78" stroke="#3447a5" stroke-width="1.2"/>
<line x1="636.00" y1="142.16" x2="664.50" y2="153.24" stroke="#3447a5" stroke-width="1.2"/>
<line x1="636.00" y1="174.18" x2="664.50" y2="217.28" stroke="#3447a5" stroke-width="1.2"/>
<line x1="636.00" y1="150.78" x2="664.50" y2="152.63" stroke="#3447a5" stroke-width="1.2"/>
<line x1="636.00" y1="164.33" x2="664.50" y2="165.56" stroke="#3447a5" stroke-width="1.2"/>
<rect x="619.30" y="136.50" width="61.30" height="123.50" fill="none" stroke="#111" stroke-width="1.1"/>
<line x1="615.10" y1="146.56" x2="619.30" y2="146.56" stroke="#111" stroke-width="1.0"/>
<text x="613.20" y="148.66" font-size="5.8" text-anchor="end">0.8</text>
<line x1="615.10" y1="162.72" x2="619.30" y2="162.72" stroke="#111" stroke-width="1.0"/>
<text x="613.20" y="164.82" font-size="5.8" text-anchor="end">0.6</text>
<line x1="615.10" y1="178.88" x2="619.30" y2="178.88" stroke="#111" stroke-width="1.0"/>
<text x="613.20" y="180.98" font-size="5.8" text-anchor="end">0.4</text>
<line x1="615.10" y1="195.04" x2="619.30" y2="195.04" stroke="#111" stroke-width="1.0"/>
<text x="613.20" y="197.14" font-size="5.8" text-anchor="end">0.2</text>
<line x1="615.10" y1="211.20" x2="619.30" y2="211.20" stroke="#111" stroke-width="1.0"/>
<text x="613.20" y="213.30" font-size="5.8" text-anchor="end">0.0</text>
<line x1="615.10" y1="227.36" x2="619.30" y2="227.36" stroke="#111" stroke-width="1.0"/>
<text x="613.20" y="229.46" font-size="5.8" text-anchor="end">−0.2</text>
<line x1="615.10" y1="243.52" x2="619.30" y2="243.52" stroke="#111" stroke-width="1.0"/>
<text x="613.20" y="245.62" font-size="5.8" text-anchor="end">−0.4</text>
<line x1="615.10" y1="259.68" x2="619.30" y2="259.68" stroke="#111" stroke-width="1.0"/>
<text x="613.20" y="261.78" font-size="5.8" text-anchor="end">−0.6</text>
<line x1="636.00" y1="260.00" x2="636.00" y2="263.50" stroke="#111" stroke-width="1.0"/>
<line x1="664.50" y1="260.00" x2="664.50" y2="263.50" stroke="#111" stroke-width="1.0"/>
<text x="634.90" y="271.90" font-size="6.85" text-anchor="middle">Baseline</text>
<text x="669.40" y="271.90" font-size="6.85" text-anchor="middle">C1D15</text>
<text x="597.20" y="205.05" font-size="8.5" text-anchor="middle" transform="rotate(-90 597.20 205.05)">Luminal A signature score</text>
<text x="621.30" y="257.40" font-size="5.6" text-anchor="start">p&lt;0.001</text>
<line x1="411.50" y1="389.91" x2="439.80" y2="401.61" stroke="#3447a5" stroke-width="1.2"/>
<line x1="411.50" y1="394.22" x2="439.80" y2="411.46" stroke="#3447a5" stroke-width="1.2"/>
<line x1="411.50" y1="297.54" x2="439.80" y2="341.26" stroke="#3447a5" stroke-width="1.2"/>
<line x1="411.50" y1="359.12" x2="439.80" y2="365.89" stroke="#3447a5" stroke-width="1.2"/>
<line x1="411.50" y1="328.33" x2="439.80" y2="372.05" stroke="#3447a5" stroke-width="1.2"/>
<line x1="411.50" y1="366.51" x2="439.80" y2="388.67" stroke="#3447a5" stroke-width="1.2"/>
<line x1="411.50" y1="333.26" x2="439.80" y2="376.98" stroke="#3447a5" stroke-width="1.2"/>
<line x1="411.50" y1="306.78" x2="439.80" y2="352.34" stroke="#3447a5" stroke-width="1.2"/>
<line x1="411.50" y1="382.52" x2="439.80" y2="386.83" stroke="#3447a5" stroke-width="1.2"/>
<line x1="411.50" y1="314.17" x2="439.80" y2="362.81" stroke="#3447a5" stroke-width="1.2"/>
<line x1="411.50" y1="343.72" x2="439.80" y2="388.06" stroke="#3447a5" stroke-width="1.2"/>
<line x1="411.50" y1="312.32" x2="439.80" y2="360.97" stroke="#3447a5" stroke-width="1.2"/>
<line x1="411.50" y1="360.35" x2="439.80" y2="362.81" stroke="#3447a5" stroke-width="1.2"/>
<line x1="411.50" y1="309.24" x2="439.80" y2="359.73" stroke="#3447a5" stroke-width="1.2"/>
<line x1="411.50" y1="407.76" x2="439.80" y2="411.46" stroke="#3447a5" stroke-width="1.2"/>
<line x1="411.50" y1="335.10" x2="439.80" y2="378.82" stroke="#3447a5" stroke-width="1.2"/>
<line x1="411.50" y1="308.01" x2="439.80" y2="357.27" stroke="#3447a5" stroke-width="1.2"/>
<line x1="411.50" y1="362.20" x2="439.80" y2="386.83" stroke="#3447a5" stroke-width="1.2"/>
<line x1="411.50" y1="383.75" x2="439.80" y2="401.61" stroke="#3447a5" stroke-width="1.2"/>
<line x1="411.50" y1="394.83" x2="439.80" y2="400.37" stroke="#3447a5" stroke-width="1.2"/>
<line x1="411.50" y1="322.17" x2="439.80" y2="365.89" stroke="#3447a5" stroke-width="1.2"/>
<line x1="411.50" y1="327.10" x2="439.80" y2="368.35" stroke="#3447a5" stroke-width="1.2"/>
<line x1="411.50" y1="381.29" x2="439.80" y2="388.06" stroke="#3447a5" stroke-width="1.2"/>
<line x1="411.50" y1="403.45" x2="439.80" y2="386.21" stroke="#ea1b23" stroke-width="1.2"/>
<rect x="395.30" y="292.60" width="61.30" height="123.70" fill="none" stroke="#111" stroke-width="1.1"/>
<line x1="391.10" y1="306.42" x2="395.30" y2="306.42" stroke="#111" stroke-width="1.0"/>
<text x="389.20" y="308.52" font-size="5.8" text-anchor="end">0.6</text>
<line x1="391.10" y1="324.08" x2="395.30" y2="324.08" stroke="#111" stroke-width="1.0"/>
<text x="389.20" y="326.18" font-size="5.8" text-anchor="end">0.4</text>
<line x1="391.10" y1="341.74" x2="395.30" y2="341.74" stroke="#111" stroke-width="1.0"/>
<text x="389.20" y="343.84" font-size="5.8" text-anchor="end">0.2</text>
<line x1="391.10" y1="359.40" x2="395.30" y2="359.40" stroke="#111" stroke-width="1.0"/>
<text x="389.20" y="361.50" font-size="5.8" text-anchor="end">0.0</text>
<line x1="391.10" y1="377.06" x2="395.30" y2="377.06" stroke="#111" stroke-width="1.0"/>
<text x="389.20" y="379.16" font-size="5.8" text-anchor="end">−0.2</text>
<line x1="391.10" y1="394.72" x2="395.30" y2="394.72" stroke="#111" stroke-width="1.0"/>
<text x="389.20" y="396.82" font-size="5.8" text-anchor="end">−0.4</text>
<line x1="391.10" y1="412.38" x2="395.30" y2="412.38" stroke="#111" stroke-width="1.0"/>
<text x="389.20" y="414.48" font-size="5.8" text-anchor="end">−0.6</text>
<line x1="411.50" y1="416.30" x2="411.50" y2="419.80" stroke="#111" stroke-width="1.0"/>
<line x1="439.80" y1="416.30" x2="439.80" y2="419.80" stroke="#111" stroke-width="1.0"/>
<text x="409.85" y="429.50" font-size="6.85" text-anchor="middle">Baseline</text>
<text x="444.65" y="429.50" font-size="6.85" text-anchor="middle">C1D15</text>
<text x="373.20" y="357.15" font-size="8.5" text-anchor="middle" transform="rotate(-90 373.20 357.15)">Luminal B signature score</text>
<text x="397.30" y="413.70" font-size="5.6" text-anchor="start">p&lt;0.001</text>
<line x1="523.00" y1="310.23" x2="551.50" y2="310.23" stroke="#3447a5" stroke-width="1.2"/>
<line x1="523.00" y1="304.32" x2="551.50" y2="308.63" stroke="#3447a5" stroke-width="1.2"/>
<line x1="523.00" y1="320.33" x2="551.50" y2="332.02" stroke="#3447a5" stroke-width="1.2"/>
<line x1="523.00" y1="314.78" x2="551.50" y2="304.32" stroke="#ea1b23" stroke-width="1.2"/>
<line x1="523.00" y1="348.65" x2="551.50" y2="341.26" stroke="#ea1b23" stroke-width="1.2"/>
<line x1="523.00" y1="344.96" x2="551.50" y2="324.02" stroke="#ea1b23" stroke-width="1.2"/>
<line x1="523.00" y1="374.51" x2="551.50" y2="341.26" stroke="#ea1b23" stroke-width="1.2"/>
<line x1="523.00" y1="316.01" x2="551.50" y2="297.54" stroke="#ea1b23" stroke-width="1.2"/>
<line x1="523.00" y1="369.59" x2="551.50" y2="333.87" stroke="#ea1b23" stroke-width="1.2"/>
<line x1="523.00" y1="409.61" x2="551.50" y2="332.64" stroke="#ea1b23" stroke-width="1.2"/>
<line x1="523.00" y1="397.91" x2="551.50" y2="349.88" stroke="#ea1b23" stroke-width="1.2"/>
<line x1="523.00" y1="389.29" x2="551.50" y2="347.42" stroke="#ea1b23" stroke-width="1.2"/>
<line x1="523.00" y1="373.28" x2="551.50" y2="331.41" stroke="#ea1b23" stroke-width="1.2"/>
<line x1="523.00" y1="410.23" x2="551.50" y2="327.71" stroke="#ea1b23" stroke-width="1.2"/>
<line x1="523.00" y1="376.98" x2="551.50" y2="344.96" stroke="#ea1b23" stroke-width="1.2"/>
<line x1="523.00" y1="372.05" x2="551.50" y2="337.57" stroke="#ea1b23" stroke-width="1.2"/>
<line x1="523.00" y1="407.76" x2="551.50" y2="367.12" stroke="#ea1b23" stroke-width="1.2"/>
<line x1="523.00" y1="352.96" x2="551.50" y2="314.17" stroke="#ea1b23" stroke-width="1.2"/>
<line x1="523.00" y1="368.35" x2="551.50" y2="328.95" stroke="#ea1b23" stroke-width="1.2"/>
<line x1="523.00" y1="373.28" x2="551.50" y2="336.33" stroke="#ea1b23" stroke-width="1.2"/>
<line x1="523.00" y1="375.74" x2="551.50" y2="335.10" stroke="#ea1b23" stroke-width="1.2"/>
<line x1="523.00" y1="379.44" x2="551.50" y2="347.42" stroke="#ea1b23" stroke-width="1.2"/>
<line x1="523.00" y1="315.40" x2="551.50" y2="313.55" stroke="#ea1b23" stroke-width="1.2"/>
<line x1="523.00" y1="370.82" x2="551.50" y2="342.49" stroke="#ea1b23" stroke-width="1.2"/>
<line x1="523.00" y1="370.82" x2="551.50" y2="326.48" stroke="#ea1b23" stroke-width="1.2"/>
<line x1="523.00" y1="378.21" x2="551.50" y2="338.80" stroke="#ea1b23" stroke-width="1.2"/>
<line x1="523.00" y1="327.71" x2="551.50" y2="318.48" stroke="#ea1b23" stroke-width="1.2"/>
<rect x="506.60" y="292.90" width="61.60" height="123.90" fill="none" stroke="#111" stroke-width="1.1"/>
<line x1="502.40" y1="321.35" x2="506.60" y2="321.35" stroke="#111" stroke-width="1.0"/>
<text x="500.50" y="323.45" font-size="5.8" text-anchor="end">0.5</text>
<line x1="502.40" y1="360.30" x2="506.60" y2="360.30" stroke="#111" stroke-width="1.0"/>
<text x="500.50" y="362.40" font-size="5.8" text-anchor="end">0.0</text>
<line x1="502.40" y1="399.25" x2="506.60" y2="399.25" stroke="#111" stroke-width="1.0"/>
<text x="500.50" y="401.35" font-size="5.8" text-anchor="end">−0.5</text>
<line x1="523.00" y1="416.80" x2="523.00" y2="420.30" stroke="#111" stroke-width="1.0"/>
<line x1="551.50" y1="416.80" x2="551.50" y2="420.30" stroke="#111" stroke-width="1.0"/>
<text x="519.45" y="429.40" font-size="6.85" text-anchor="middle">Baseline</text>
<text x="554.45" y="429.40" font-size="6.85" text-anchor="middle">C1D15</text>
<text x="484.50" y="357.25" font-size="8.5" text-anchor="middle" transform="rotate(-90 484.50 357.25)">Normal-like signature score</text>
<text x="508.60" y="414.20" font-size="5.6" text-anchor="start">p&lt;0.001</text>
<line x1="637.20" y1="373.28" x2="665.60" y2="405.30" stroke="#3447a5" stroke-width="1.2"/>
<line x1="637.20" y1="310.47" x2="665.60" y2="328.33" stroke="#3447a5" stroke-width="1.2"/>
<line x1="637.20" y1="297.54" x2="665.60" y2="373.28" stroke="#3447a5" stroke-width="1.2"/>
<line x1="637.20" y1="346.19" x2="665.60" y2="406.53" stroke="#3447a5" stroke-width="1.2"/>
<line x1="637.20" y1="349.88" x2="665.60" y2="399.14" stroke="#3447a5" stroke-width="1.2"/>
<line x1="637.20" y1="341.26" x2="665.60" y2="404.07" stroke="#3447a5" stroke-width="1.2"/>
<line x1="637.20" y1="387.44" x2="665.60" y2="397.91" stroke="#3447a5" stroke-width="1.2"/>
<line x1="637.20" y1="400.37" x2="665.60" y2="401.61" stroke="#3447a5" stroke-width="1.2"/>
<line x1="637.20" y1="332.64" x2="665.60" y2="407.76" stroke="#3447a5" stroke-width="1.2"/>
<line x1="637.20" y1="331.41" x2="665.60" y2="402.84" stroke="#3447a5" stroke-width="1.2"/>
<line x1="637.20" y1="359.73" x2="665.60" y2="407.76" stroke="#3447a5" stroke-width="1.2"/>
<line x1="637.20" y1="318.48" x2="665.60" y2="410.23" stroke="#3447a5" stroke-width="1.2"/>
<line x1="637.20" y1="378.21" x2="665.60" y2="409.00" stroke="#3447a5" stroke-width="1.2"/>
<line x1="637.20" y1="320.33" x2="665.60" y2="396.68" stroke="#3447a5" stroke-width="1.2"/>
<line x1="637.20" y1="316.63" x2="665.60" y2="392.99" stroke="#3447a5" stroke-width="1.2"/>
<line x1="637.20" y1="322.79" x2="665.60" y2="399.14" stroke="#3447a5" stroke-width="1.2"/>
<line x1="637.20" y1="353.58" x2="665.60" y2="405.30" stroke="#3447a5" stroke-width="1.2"/>
<line x1="637.20" y1="327.71" x2="665.60" y2="400.37" stroke="#3447a5" stroke-width="1.2"/>
<line x1="637.20" y1="343.72" x2="665.60" y2="401.61" stroke="#3447a5" stroke-width="1.2"/>
<line x1="637.20" y1="314.78" x2="665.60" y2="357.27" stroke="#3447a5" stroke-width="1.2"/>
<line x1="637.20" y1="337.57" x2="665.60" y2="397.91" stroke="#3447a5" stroke-width="1.2"/>
<line x1="637.20" y1="382.52" x2="665.60" y2="402.84" stroke="#3447a5" stroke-width="1.2"/>
<line x1="637.20" y1="325.25" x2="665.60" y2="394.22" stroke="#3447a5" stroke-width="1.2"/>
<line x1="637.20" y1="370.82" x2="665.60" y2="400.37" stroke="#3447a5" stroke-width="1.2"/>
<line x1="637.20" y1="370.20" x2="665.60" y2="340.65" stroke="#ea1b23" stroke-width="1.2"/>
<rect x="620.70" y="292.80" width="61.30" height="123.50" fill="none" stroke="#111" stroke-width="1.1"/>
<line x1="616.50" y1="305.50" x2="620.70" y2="305.50" stroke="#111" stroke-width="1.0"/>
<text x="614.60" y="307.60" font-size="5.8" text-anchor="end">0.5</text>
<line x1="616.50" y1="335.10" x2="620.70" y2="335.10" stroke="#111" stroke-width="1.0"/>
<text x="614.60" y="337.20" font-size="5.8" text-anchor="end">0.0</text>
<line x1="616.50" y1="364.70" x2="620.70" y2="364.70" stroke="#111" stroke-width="1.0"/>
<text x="614.60" y="366.80" font-size="5.8" text-anchor="end">−0.5</text>
<line x1="616.50" y1="394.30" x2="620.70" y2="394.30" stroke="#111" stroke-width="1.0"/>
<text x="614.60" y="396.40" font-size="5.8" text-anchor="end">−1.0</text>
<line x1="637.20" y1="416.30" x2="637.20" y2="419.80" stroke="#111" stroke-width="1.0"/>
<line x1="665.60" y1="416.30" x2="665.60" y2="419.80" stroke="#111" stroke-width="1.0"/>
<text x="635.00" y="429.80" font-size="6.85" text-anchor="middle">Baseline</text>
<text x="669.80" y="429.80" font-size="6.85" text-anchor="middle">C1D15</text>
<text x="595.80" y="362.05" font-size="8.5" text-anchor="middle" transform="rotate(-90 595.80 362.05)">Proliferation score</text>
<text x="622.70" y="413.70" font-size="5.6" text-anchor="start">p&lt;0.001</text>
<line x1="43.90" y1="528.52" x2="72.30" y2="560.90" stroke="#3447a5" stroke-width="1.2"/>
<line x1="43.90" y1="487.21" x2="72.30" y2="515.45" stroke="#3447a5" stroke-width="1.2"/>
<line x1="43.90" y1="564.30" x2="72.30" y2="586.15" stroke="#3447a5" stroke-width="1.2"/>
<line x1="43.90" y1="525.01" x2="72.30" y2="564.95" stroke="#3447a5" stroke-width="1.2"/>
<line x1="43.90" y1="508.63" x2="72.30" y2="571.25" stroke="#3447a5" stroke-width="1.2"/>
<line x1="43.90" y1="503.90" x2="72.30" y2="533.70" stroke="#3447a5" stroke-width="1.2"/>
<line x1="43.90" y1="567.91" x2="72.30" y2="585.93" stroke="#3447a5" stroke-width="1.2"/>
<line x1="43.90" y1="571.66" x2="72.30" y2="584.45" stroke="#3447a5" stroke-width="1.2"/>
<line x1="43.90" y1="557.86" x2="72.30" y2="577.99" stroke="#3447a5" stroke-width="1.2"/>
<line x1="43.90" y1="533.10" x2="72.30" y2="561.23" stroke="#3447a5" stroke-width="1.2"/>
<line x1="43.90" y1="544.64" x2="72.30" y2="588.78" stroke="#3447a5" stroke-width="1.2"/>
<line x1="43.90" y1="520.70" x2="72.30" y2="530.25" stroke="#3447a5" stroke-width="1.2"/>
<line x1="43.90" y1="575.30" x2="72.30" y2="585.72" stroke="#3447a5" stroke-width="1.2"/>
<line x1="43.90" y1="495.08" x2="72.30" y2="495.64" stroke="#3447a5" stroke-width="1.2"/>
<line x1="43.90" y1="540.41" x2="72.30" y2="588.78" stroke="#3447a5" stroke-width="1.2"/>
<line x1="43.90" y1="486.30" x2="72.30" y2="513.71" stroke="#3447a5" stroke-width="1.2"/>
<line x1="43.90" y1="492.85" x2="72.30" y2="541.32" stroke="#3447a5" stroke-width="1.2"/>
<line x1="43.90" y1="555.03" x2="72.30" y2="588.78" stroke="#3447a5" stroke-width="1.2"/>
<line x1="43.90" y1="537.17" x2="72.30" y2="567.16" stroke="#3447a5" stroke-width="1.2"/>
<line x1="43.90" y1="478.30" x2="72.30" y2="484.85" stroke="#3447a5" stroke-width="1.2"/>
<line x1="43.90" y1="551.61" x2="72.30" y2="553.56" stroke="#3447a5" stroke-width="1.2"/>
<line x1="43.90" y1="506.08" x2="72.30" y2="533.04" stroke="#3447a5" stroke-width="1.2"/>
<line x1="43.90" y1="583.90" x2="72.30" y2="583.90" stroke="#3447a5" stroke-width="1.2"/>
<line x1="43.90" y1="517.61" x2="72.30" y2="535.03" stroke="#3447a5" stroke-width="1.2"/>
<line x1="43.90" y1="501.18" x2="72.30" y2="543.94" stroke="#3447a5" stroke-width="1.2"/>
<line x1="43.90" y1="560.28" x2="72.30" y2="588.78" stroke="#3447a5" stroke-width="1.2"/>
<line x1="43.90" y1="514.81" x2="72.30" y2="525.62" stroke="#3447a5" stroke-width="1.2"/>
<line x1="43.90" y1="542.36" x2="72.30" y2="564.46" stroke="#3447a5" stroke-width="1.2"/>
<line x1="43.90" y1="513.65" x2="72.30" y2="494.70" stroke="#ea1b23" stroke-width="1.2"/>
<line x1="43.90" y1="542.81" x2="72.30" y2="506.13" stroke="#ea1b23" stroke-width="1.2"/>
<line x1="43.90" y1="579.84" x2="72.30" y2="570.78" stroke="#ea1b23" stroke-width="1.2"/>
<line x1="43.90" y1="548.19" x2="72.30" y2="527.04" stroke="#ea1b23" stroke-width="1.2"/>
<line x1="43.90" y1="555.45" x2="72.30" y2="503.90" stroke="#ea1b23" stroke-width="1.2"/>
<line x1="43.90" y1="523.01" x2="72.30" y2="493.16" stroke="#ea1b23" stroke-width="1.2"/>
<line x1="43.90" y1="518.00" x2="72.30" y2="494.55" stroke="#ea1b23" stroke-width="1.2"/>
<line x1="43.90" y1="566.46" x2="72.30" y2="535.58" stroke="#ea1b23" stroke-width="1.2"/>
<line x1="43.90" y1="506.10" x2="72.30" y2="492.90" stroke="#ea1b23" stroke-width="1.2"/>
<line x1="43.90" y1="534.16" x2="72.30" y2="518.06" stroke="#ea1b23" stroke-width="1.2"/>
<line x1="43.90" y1="498.82" x2="72.30" y2="475.09" stroke="#ea1b23" stroke-width="1.2"/>
<line x1="43.90" y1="563.35" x2="72.30" y2="524.29" stroke="#ea1b23" stroke-width="1.2"/>
<line x1="43.90" y1="582.07" x2="72.30" y2="541.85" stroke="#ea1b23" stroke-width="1.2"/>
<line x1="43.90" y1="583.68" x2="72.30" y2="564.43" stroke="#ea1b23" stroke-width="1.2"/>
<line x1="43.90" y1="502.42" x2="72.30" y2="475.09" stroke="#ea1b23" stroke-width="1.2"/>
<line x1="43.90" y1="567.65" x2="72.30" y2="496.34" stroke="#ea1b23" stroke-width="1.2"/>
<line x1="43.90" y1="557.60" x2="72.30" y2="516.72" stroke="#ea1b23" stroke-width="1.2"/>
<line x1="43.90" y1="517.01" x2="72.30" y2="475.09" stroke="#ea1b23" stroke-width="1.2"/>
<line x1="43.90" y1="537.19" x2="72.30" y2="501.41" stroke="#ea1b23" stroke-width="1.2"/>
<line x1="43.90" y1="573.18" x2="72.30" y2="565.68" stroke="#ea1b23" stroke-width="1.2"/>
<line x1="43.90" y1="575.88" x2="72.30" y2="568.07" stroke="#ea1b23" stroke-width="1.2"/>
<line x1="43.90" y1="552.99" x2="72.30" y2="523.39" stroke="#ea1b23" stroke-width="1.2"/>
<line x1="43.90" y1="526.84" x2="72.30" y2="483.62" stroke="#ea1b23" stroke-width="1.2"/>
<line x1="43.90" y1="508.65" x2="72.30" y2="484.68" stroke="#ea1b23" stroke-width="1.2"/>
<line x1="43.90" y1="533.09" x2="72.30" y2="530.43" stroke="#ea1b23" stroke-width="1.2"/>
<line x1="43.90" y1="546.62" x2="72.30" y2="526.96" stroke="#ea1b23" stroke-width="1.2"/>
<line x1="43.90" y1="528.35" x2="72.30" y2="475.72" stroke="#ea1b23" stroke-width="1.2"/>
<rect x="27.40" y="469.50" width="61.00" height="123.50" fill="none" stroke="#111" stroke-width="1.1"/>
<line x1="23.90" y1="472.30" x2="27.40" y2="472.30" stroke="#111" stroke-width="1.0"/>
<text x="22.20" y="474.40" font-size="6.2" text-anchor="end">0.2</text>
<line x1="23.90" y1="500.20" x2="27.40" y2="500.20" stroke="#111" stroke-width="1.0"/>
<text x="22.20" y="502.30" font-size="6.2" text-anchor="end">0.0</text>
<line x1="23.90" y1="528.10" x2="27.40" y2="528.10" stroke="#111" stroke-width="1.0"/>
<text x="22.20" y="530.20" font-size="6.2" text-anchor="end">−0.2</text>
<line x1="23.90" y1="556.00" x2="27.40" y2="556.00" stroke="#111" stroke-width="1.0"/>
<text x="22.20" y="558.10" font-size="6.2" text-anchor="end">−0.4</text>
<line x1="23.90" y1="583.90" x2="27.40" y2="583.90" stroke="#111" stroke-width="1.0"/>
<text x="22.20" y="586.00" font-size="6.2" text-anchor="end">−0.6</text>
<line x1="43.90" y1="593.00" x2="43.90" y2="596.50" stroke="#111" stroke-width="1.0"/>
<line x1="72.30" y1="593.00" x2="72.30" y2="596.50" stroke="#111" stroke-width="1.0"/>
<text x="42.60" y="604.60" font-size="6.85" text-anchor="middle">Baseline</text>
<text x="72.30" y="604.60" font-size="6.85" text-anchor="middle">Surgery</text>
<text x="6.30" y="532.35" font-size="8.5" text-anchor="middle" transform="rotate(-90 6.30 532.35)">Basal-like signature score</text>
<text x="29.40" y="590.40" font-size="5.6" text-anchor="start">p=0.587</text>
<line x1="155.40" y1="515.72" x2="183.60" y2="561.93" stroke="#3447a5" stroke-width="1.2"/>
<line x1="155.40" y1="494.32" x2="183.60" y2="552.44" stroke="#3447a5" stroke-width="1.2"/>
<line x1="155.40" y1="482.65" x2="183.60" y2="546.80" stroke="#3447a5" stroke-width="1.2"/>
<line x1="155.40" y1="481.14" x2="183.60" y2="511.46" stroke="#3447a5" stroke-width="1.2"/>
<line x1="155.40" y1="498.08" x2="183.60" y2="560.98" stroke="#3447a5" stroke-width="1.2"/>
<line x1="155.40" y1="515.20" x2="183.60" y2="559.70" stroke="#3447a5" stroke-width="1.2"/>
<line x1="155.40" y1="545.55" x2="183.60" y2="539.28" stroke="#ea1b23" stroke-width="1.2"/>
<line x1="155.40" y1="539.41" x2="183.60" y2="585.63" stroke="#3447a5" stroke-width="1.2"/>
<line x1="155.40" y1="516.84" x2="183.60" y2="575.76" stroke="#3447a5" stroke-width="1.2"/>
<line x1="155.40" y1="514.20" x2="183.60" y2="527.88" stroke="#3447a5" stroke-width="1.2"/>
<line x1="155.40" y1="540.35" x2="183.60" y2="579.84" stroke="#3447a5" stroke-width="1.2"/>
<line x1="155.40" y1="534.90" x2="183.60" y2="580.21" stroke="#3447a5" stroke-width="1.2"/>
<line x1="155.40" y1="491.66" x2="183.60" y2="536.18" stroke="#3447a5" stroke-width="1.2"/>
<line x1="155.40" y1="540.17" x2="183.60" y2="560.14" stroke="#3447a5" stroke-width="1.2"/>
<line x1="155.40" y1="527.49" x2="183.60" y2="545.48" stroke="#3447a5" stroke-width="1.2"/>
<line x1="155.40" y1="516.49" x2="183.60" y2="544.09" stroke="#3447a5" stroke-width="1.2"/>
<line x1="155.40" y1="523.85" x2="183.60" y2="581.52" stroke="#3447a5" stroke-width="1.2"/>
<line x1="155.40" y1="502.14" x2="183.60" y2="544.23" stroke="#3447a5" stroke-width="1.2"/>
<line x1="155.40" y1="487.04" x2="183.60" y2="537.32" stroke="#3447a5" stroke-width="1.2"/>
<line x1="155.40" y1="490.60" x2="183.60" y2="533.82" stroke="#3447a5" stroke-width="1.2"/>
<line x1="155.40" y1="487.46" x2="183.60" y2="559.78" stroke="#3447a5" stroke-width="1.2"/>
<line x1="155.40" y1="512.98" x2="183.60" y2="543.60" stroke="#3447a5" stroke-width="1.2"/>
<line x1="155.40" y1="541.26" x2="183.60" y2="587.07" stroke="#3447a5" stroke-width="1.2"/>
<line x1="155.40" y1="504.51" x2="183.60" y2="569.04" stroke="#3447a5" stroke-width="1.2"/>
<line x1="155.40" y1="531.44" x2="183.60" y2="584.11" stroke="#3447a5" stroke-width="1.2"/>
<line x1="155.40" y1="500.52" x2="183.60" y2="503.94" stroke="#3447a5" stroke-width="1.2"/>
<line x1="155.40" y1="510.82" x2="183.60" y2="579.00" stroke="#3447a5" stroke-width="1.2"/>
<line x1="155.40" y1="496.07" x2="183.60" y2="539.61" stroke="#3447a5" stroke-width="1.2"/>
<line x1="155.40" y1="517.80" x2="183.60" y2="560.84" stroke="#3447a5" stroke-width="1.2"/>
<line x1="155.40" y1="530.55" x2="183.60" y2="584.66" stroke="#3447a5" stroke-width="1.2"/>
<line x1="155.40" y1="485.69" x2="183.60" y2="531.53" stroke="#3447a5" stroke-width="1.2"/>
<line x1="155.40" y1="508.84" x2="183.60" y2="535.34" stroke="#3447a5" stroke-width="1.2"/>
<line x1="155.40" y1="519.09" x2="183.60" y2="553.46" stroke="#3447a5" stroke-width="1.2"/>
<line x1="155.40" y1="532.83" x2="183.60" y2="586.29" stroke="#3447a5" stroke-width="1.2"/>
<line x1="155.40" y1="529.27" x2="183.60" y2="545.05" stroke="#3447a5" stroke-width="1.2"/>
<line x1="155.40" y1="491.10" x2="183.60" y2="573.45" stroke="#3447a5" stroke-width="1.2"/>
<line x1="155.40" y1="506.83" x2="183.60" y2="563.74" stroke="#3447a5" stroke-width="1.2"/>
<line x1="155.40" y1="518.09" x2="183.60" y2="564.40" stroke="#3447a5" stroke-width="1.2"/>
<line x1="155.40" y1="491.94" x2="183.60" y2="567.47" stroke="#3447a5" stroke-width="1.2"/>
<line x1="155.40" y1="483.18" x2="183.60" y2="534.16" stroke="#3447a5" stroke-width="1.2"/>
<line x1="155.40" y1="483.42" x2="183.60" y2="526.28" stroke="#3447a5" stroke-width="1.2"/>
<line x1="155.40" y1="535.45" x2="183.60" y2="583.21" stroke="#3447a5" stroke-width="1.2"/>
<line x1="155.40" y1="518.82" x2="183.60" y2="581.97" stroke="#3447a5" stroke-width="1.2"/>
<line x1="155.40" y1="508.08" x2="183.60" y2="546.88" stroke="#3447a5" stroke-width="1.2"/>
<line x1="155.40" y1="484.64" x2="183.60" y2="542.02" stroke="#3447a5" stroke-width="1.2"/>
<line x1="155.40" y1="504.10" x2="183.60" y2="532.36" stroke="#3447a5" stroke-width="1.2"/>
<line x1="155.40" y1="505.79" x2="183.60" y2="542.06" stroke="#3447a5" stroke-width="1.2"/>
<line x1="155.40" y1="555.24" x2="183.60" y2="565.50" stroke="#3447a5" stroke-width="1.2"/>
<line x1="155.40" y1="535.12" x2="183.60" y2="578.18" stroke="#3447a5" stroke-width="1.2"/>
<line x1="155.40" y1="529.03" x2="183.60" y2="562.80" stroke="#3447a5" stroke-width="1.2"/>
<line x1="155.40" y1="480.68" x2="183.60" y2="474.30" stroke="#ea1b23" stroke-width="1.2"/>
<line x1="155.40" y1="490.60" x2="183.60" y2="481.71" stroke="#ea1b23" stroke-width="1.2"/>
<line x1="155.40" y1="522.18" x2="183.60" y2="502.00" stroke="#ea1b23" stroke-width="1.2"/>
<rect x="138.90" y="469.50" width="61.50" height="124.10" fill="none" stroke="#111" stroke-width="1.1"/>
<line x1="135.40" y1="480.00" x2="138.90" y2="480.00" stroke="#111" stroke-width="1.0"/>
<text x="133.70" y="482.10" font-size="6.2" text-anchor="end">0.4</text>
<line x1="135.40" y1="502.80" x2="138.90" y2="502.80" stroke="#111" stroke-width="1.0"/>
<text x="133.70" y="504.90" font-size="6.2" text-anchor="end">0.2</text>
<line x1="135.40" y1="525.60" x2="138.90" y2="525.60" stroke="#111" stroke-width="1.0"/>
<text x="133.70" y="527.70" font-size="6.2" text-anchor="end">0.0</text>
<line x1="135.40" y1="548.40" x2="138.90" y2="548.40" stroke="#111" stroke-width="1.0"/>
<text x="133.70" y="550.50" font-size="6.2" text-anchor="end">−0.2</text>
<line x1="135.40" y1="571.20" x2="138.90" y2="571.20" stroke="#111" stroke-width="1.0"/>
<text x="133.70" y="573.30" font-size="6.2" text-anchor="end">−0.4</text>
<line x1="155.40" y1="593.60" x2="155.40" y2="597.10" stroke="#111" stroke-width="1.0"/>
<line x1="183.60" y1="593.60" x2="183.60" y2="597.10" stroke="#111" stroke-width="1.0"/>
<text x="156.95" y="604.60" font-size="6.85" text-anchor="middle">Baseline</text>
<text x="186.85" y="604.60" font-size="6.85" text-anchor="middle">Surgery</text>
<text x="117.80" y="533.95" font-size="8.5" text-anchor="middle" transform="rotate(-90 117.80 533.95)">HER2-enriched signature score</text>
<text x="140.90" y="591.00" font-size="5.6" text-anchor="start">p&lt;0.001</text>
<line x1="267.60" y1="561.35" x2="295.80" y2="509.12" stroke="#ea1b23" stroke-width="1.2"/>
<line x1="267.60" y1="532.44" x2="295.80" y2="504.74" stroke="#ea1b23" stroke-width="1.2"/>
<line x1="267.60" y1="516.89" x2="295.80" y2="502.81" stroke="#ea1b23" stroke-width="1.2"/>
<line x1="267.60" y1="551.16" x2="295.80" y2="516.14" stroke="#ea1b23" stroke-width="1.2"/>
<line x1="267.60" y1="570.17" x2="295.80" y2="509.86" stroke="#ea1b23" stroke-width="1.2"/>
<line x1="267.60" y1="514.67" x2="295.80" y2="479.54" stroke="#ea1b23" stroke-width="1.2"/>
<line x1="267.60" y1="549.14" x2="295.80" y2="485.16" stroke="#ea1b23" stroke-width="1.2"/>
<line x1="267.60" y1="505.92" x2="295.80" y2="473.93" stroke="#ea1b23" stroke-width="1.2"/>
<line x1="267.60" y1="575.97" x2="295.80" y2="510.85" stroke="#ea1b23" stroke-width="1.2"/>
<line x1="267.60" y1="532.90" x2="295.80" y2="502.37" stroke="#ea1b23" stroke-width="1.2"/>
<line x1="267.60" y1="552.68" x2="295.80" y2="481.65" stroke="#ea1b23" stroke-width="1.2"/>
<line x1="267.60" y1="576.58" x2="295.80" y2="487.18" stroke="#ea1b23" stroke-width="1.2"/>
<line x1="267.60" y1="561.14" x2="295.80" y2="483.11" stroke="#ea1b23" stroke-width="1.2"/>
<line x1="267.60" y1="559.68" x2="295.80" y2="490.48" stroke="#ea1b23" stroke-width="1.2"/>
<line x1="267.60" y1="552.37" x2="295.80" y2="496.04" stroke="#ea1b23" stroke-width="1.2"/>
<line x1="267.60" y1="567.68" x2="295.80" y2="483.41" stroke="#ea1b23" stroke-width="1.2"/>
<line x1="267.60" y1="542.19" x2="295.80" y2="543.71" stroke="#ea1b23" stroke-width="1.2"/>
<line x1="267.60" y1="567.50" x2="295.80" y2="492.24" stroke="#ea1b23" stroke-width="1.2"/>
<line x1="267.60" y1="541.53" x2="295.80" y2="488.44" stroke="#ea1b23" stroke-width="1.2"/>
<line x1="267.60" y1="574.43" x2="295.80" y2="511.08" stroke="#ea1b23" stroke-width="1.2"/>
<line x1="267.60" y1="526.35" x2="295.80" y2="491.63" stroke="#ea1b23" stroke-width="1.2"/>
<line x1="267.60" y1="558.60" x2="295.80" y2="490.59" stroke="#ea1b23" stroke-width="1.2"/>
<line x1="267.60" y1="512.36" x2="295.80" y2="479.51" stroke="#ea1b23" stroke-width="1.2"/>
<line x1="267.60" y1="573.73" x2="295.80" y2="509.49" stroke="#ea1b23" stroke-width="1.2"/>
<line x1="267.60" y1="531.88" x2="295.80" y2="475.91" stroke="#ea1b23" stroke-width="1.2"/>
<line x1="267.60" y1="536.28" x2="295.80" y2="484.40" stroke="#ea1b23" stroke-width="1.2"/>
<line x1="267.60" y1="565.10" x2="295.80" y2="514.44" stroke="#ea1b23" stroke-width="1.2"/>
<line x1="267.60" y1="537.11" x2="295.80" y2="543.89" stroke="#ea1b23" stroke-width="1.2"/>
<line x1="267.60" y1="583.34" x2="295.80" y2="540.29" stroke="#ea1b23" stroke-width="1.2"/>
<line x1="267.60" y1="552.22" x2="295.80" y2="482.01" stroke="#ea1b23" stroke-width="1.2"/>
<line x1="267.60" y1="547.06" x2="295.80" y2="481.85" stroke="#ea1b23" stroke-width="1.2"/>
<line x1="267.60" y1="546.26" x2="295.80" y2="494.91" stroke="#ea1b23" stroke-width="1.2"/>
<line x1="267.60" y1="534.43" x2="295.80" y2="503.81" stroke="#ea1b23" stroke-width="1.2"/>
<line x1="267.60" y1="569.45" x2="295.80" y2="494.29" stroke="#ea1b23" stroke-width="1.2"/>
<line x1="267.60" y1="532.71" x2="295.80" y2="513.35" stroke="#ea1b23" stroke-width="1.2"/>
<line x1="267.60" y1="562.73" x2="295.80" y2="505.96" stroke="#ea1b23" stroke-width="1.2"/>
<line x1="267.60" y1="532.40" x2="295.80" y2="502.58" stroke="#ea1b23" stroke-width="1.2"/>
<line x1="267.60" y1="575.22" x2="295.80" y2="491.32" stroke="#ea1b23" stroke-width="1.2"/>
<line x1="267.60" y1="538.12" x2="295.80" y2="498.69" stroke="#ea1b23" stroke-width="1.2"/>
<line x1="267.60" y1="515.22" x2="295.80" y2="500.02" stroke="#ea1b23" stroke-width="1.2"/>
<line x1="267.60" y1="576.63" x2="295.80" y2="501.31" stroke="#ea1b23" stroke-width="1.2"/>
<line x1="267.60" y1="560.02" x2="295.80" y2="493.81" stroke="#ea1b23" stroke-width="1.2"/>
<line x1="267.60" y1="566.50" x2="295.80" y2="507.35" stroke="#ea1b23" stroke-width="1.2"/>
<line x1="267.60" y1="566.49" x2="295.80" y2="484.54" stroke="#ea1b23" stroke-width="1.2"/>
<line x1="267.60" y1="537.23" x2="295.80" y2="546.54" stroke="#ea1b23" stroke-width="1.2"/>
<line x1="267.60" y1="512.40" x2="295.80" y2="480.71" stroke="#ea1b23" stroke-width="1.2"/>
<line x1="267.60" y1="583.36" x2="295.80" y2="516.87" stroke="#ea1b23" stroke-width="1.2"/>
<line x1="267.60" y1="533.88" x2="295.80" y2="477.85" stroke="#ea1b23" stroke-width="1.2"/>
<line x1="267.60" y1="536.66" x2="295.80" y2="501.33" stroke="#ea1b23" stroke-width="1.2"/>
<line x1="267.60" y1="523.01" x2="295.80" y2="499.67" stroke="#ea1b23" stroke-width="1.2"/>
<line x1="267.60" y1="544.12" x2="295.80" y2="483.28" stroke="#ea1b23" stroke-width="1.2"/>
<line x1="267.60" y1="516.39" x2="295.80" y2="541.01" stroke="#3447a5" stroke-width="1.2"/>
<line x1="267.60" y1="555.16" x2="295.80" y2="559.58" stroke="#3447a5" stroke-width="1.2"/>
<line x1="267.60" y1="555.16" x2="295.80" y2="585.43" stroke="#3447a5" stroke-width="1.2"/>
<line x1="267.60" y1="546.82" x2="295.80" y2="555.82" stroke="#3447a5" stroke-width="1.2"/>
<line x1="267.60" y1="510.33" x2="295.80" y2="521.30" stroke="#3447a5" stroke-width="1.2"/>
<rect x="251.40" y="469.90" width="61.20" height="123.70" fill="none" stroke="#111" stroke-width="1.1"/>
<line x1="247.90" y1="476.96" x2="251.40" y2="476.96" stroke="#111" stroke-width="1.0"/>
<text x="246.20" y="479.06" font-size="6.2" text-anchor="end">0.8</text>
<line x1="247.90" y1="493.32" x2="251.40" y2="493.32" stroke="#111" stroke-width="1.0"/>
<text x="246.20" y="495.42" font-size="6.2" text-anchor="end">0.6</text>
<line x1="247.90" y1="509.68" x2="251.40" y2="509.68" stroke="#111" stroke-width="1.0"/>
<text x="246.20" y="511.78" font-size="6.2" text-anchor="end">0.4</text>
<line x1="247.90" y1="526.04" x2="251.40" y2="526.04" stroke="#111" stroke-width="1.0"/>
<text x="246.20" y="528.14" font-size="6.2" text-anchor="end">0.2</text>
<line x1="247.90" y1="542.40" x2="251.40" y2="542.40" stroke="#111" stroke-width="1.0"/>
<text x="246.20" y="544.50" font-size="6.2" text-anchor="end">0.0</text>
<line x1="247.90" y1="558.76" x2="251.40" y2="558.76" stroke="#111" stroke-width="1.0"/>
<text x="246.20" y="560.86" font-size="6.2" text-anchor="end">−0.2</text>
<line x1="247.90" y1="575.12" x2="251.40" y2="575.12" stroke="#111" stroke-width="1.0"/>
<text x="246.20" y="577.22" font-size="6.2" text-anchor="end">−0.4</text>
<line x1="247.90" y1="591.48" x2="251.40" y2="591.48" stroke="#111" stroke-width="1.0"/>
<text x="246.20" y="593.58" font-size="6.2" text-anchor="end">−0.6</text>
<line x1="267.60" y1="593.60" x2="267.60" y2="597.10" stroke="#111" stroke-width="1.0"/>
<line x1="295.80" y1="593.60" x2="295.80" y2="597.10" stroke="#111" stroke-width="1.0"/>
<text x="269.25" y="604.60" font-size="6.85" text-anchor="middle">Baseline</text>
<text x="299.00" y="604.60" font-size="6.85" text-anchor="middle">Surgery</text>
<text x="230.30" y="535.75" font-size="8.5" text-anchor="middle" transform="rotate(-90 230.30 535.75)">Luminal A signature score</text>
<text x="253.40" y="591.00" font-size="5.6" text-anchor="start">p&lt;0.001</text>
<line x1="43.50" y1="652.94" x2="72.10" y2="701.79" stroke="#3447a5" stroke-width="1.2"/>
<line x1="43.50" y1="657.45" x2="72.10" y2="720.79" stroke="#3447a5" stroke-width="1.2"/>
<line x1="43.50" y1="637.93" x2="72.10" y2="737.32" stroke="#3447a5" stroke-width="1.2"/>
<line x1="43.50" y1="645.00" x2="72.10" y2="731.57" stroke="#3447a5" stroke-width="1.2"/>
<line x1="43.50" y1="659.87" x2="72.10" y2="717.47" stroke="#3447a5" stroke-width="1.2"/>
<line x1="43.50" y1="665.22" x2="72.10" y2="687.03" stroke="#3447a5" stroke-width="1.2"/>
<line x1="43.50" y1="653.31" x2="72.10" y2="681.45" stroke="#3447a5" stroke-width="1.2"/>
<line x1="43.50" y1="628.88" x2="72.10" y2="658.80" stroke="#3447a5" stroke-width="1.2"/>
<line x1="43.50" y1="663.15" x2="72.10" y2="676.94" stroke="#3447a5" stroke-width="1.2"/>
<line x1="43.50" y1="651.11" x2="72.10" y2="721.91" stroke="#3447a5" stroke-width="1.2"/>
<line x1="43.50" y1="653.63" x2="72.10" y2="700.16" stroke="#3447a5" stroke-width="1.2"/>
<line x1="43.50" y1="658.25" x2="72.10" y2="694.97" stroke="#3447a5" stroke-width="1.2"/>
<line x1="43.50" y1="670.77" x2="72.10" y2="733.60" stroke="#3447a5" stroke-width="1.2"/>
<line x1="43.50" y1="649.94" x2="72.10" y2="691.34" stroke="#3447a5" stroke-width="1.2"/>
<line x1="43.50" y1="647.56" x2="72.10" y2="723.60" stroke="#3447a5" stroke-width="1.2"/>
<line x1="43.50" y1="656.40" x2="72.10" y2="698.73" stroke="#3447a5" stroke-width="1.2"/>
<line x1="43.50" y1="645.16" x2="72.10" y2="706.04" stroke="#3447a5" stroke-width="1.2"/>
<line x1="43.50" y1="643.30" x2="72.10" y2="715.67" stroke="#3447a5" stroke-width="1.2"/>
<line x1="43.50" y1="657.48" x2="72.10" y2="725.61" stroke="#3447a5" stroke-width="1.2"/>
<line x1="43.50" y1="655.59" x2="72.10" y2="720.30" stroke="#3447a5" stroke-width="1.2"/>
<line x1="43.50" y1="636.93" x2="72.10" y2="741.08" stroke="#3447a5" stroke-width="1.2"/>
<line x1="43.50" y1="651.33" x2="72.10" y2="729.76" stroke="#3447a5" stroke-width="1.2"/>
<line x1="43.50" y1="665.80" x2="72.10" y2="675.64" stroke="#3447a5" stroke-width="1.2"/>
<line x1="43.50" y1="659.44" x2="72.10" y2="677.28" stroke="#3447a5" stroke-width="1.2"/>
<line x1="43.50" y1="644.68" x2="72.10" y2="739.06" stroke="#3447a5" stroke-width="1.2"/>
<line x1="43.50" y1="662.59" x2="72.10" y2="690.15" stroke="#3447a5" stroke-width="1.2"/>
<line x1="43.50" y1="665.71" x2="72.10" y2="681.51" stroke="#3447a5" stroke-width="1.2"/>
<line x1="43.50" y1="650.95" x2="72.10" y2="710.06" stroke="#3447a5" stroke-width="1.2"/>
<line x1="43.50" y1="658.14" x2="72.10" y2="735.94" stroke="#3447a5" stroke-width="1.2"/>
<line x1="43.50" y1="640.35" x2="72.10" y2="739.27" stroke="#3447a5" stroke-width="1.2"/>
<line x1="43.50" y1="654.96" x2="72.10" y2="690.29" stroke="#3447a5" stroke-width="1.2"/>
<line x1="43.50" y1="634.51" x2="72.10" y2="656.60" stroke="#3447a5" stroke-width="1.2"/>
<line x1="43.50" y1="660.80" x2="72.10" y2="677.40" stroke="#3447a5" stroke-width="1.2"/>
<line x1="43.50" y1="651.31" x2="72.10" y2="727.30" stroke="#3447a5" stroke-width="1.2"/>
<line x1="43.50" y1="667.60" x2="72.10" y2="743.28" stroke="#3447a5" stroke-width="1.2"/>
<line x1="43.50" y1="641.60" x2="72.10" y2="715.75" stroke="#3447a5" stroke-width="1.2"/>
<line x1="43.50" y1="640.67" x2="72.10" y2="735.17" stroke="#3447a5" stroke-width="1.2"/>
<line x1="43.50" y1="664.92" x2="72.10" y2="695.53" stroke="#3447a5" stroke-width="1.2"/>
<line x1="43.50" y1="641.24" x2="72.10" y2="701.03" stroke="#3447a5" stroke-width="1.2"/>
<line x1="43.50" y1="637.34" x2="72.10" y2="735.90" stroke="#3447a5" stroke-width="1.2"/>
<line x1="43.50" y1="642.98" x2="72.10" y2="724.10" stroke="#3447a5" stroke-width="1.2"/>
<line x1="43.50" y1="659.49" x2="72.10" y2="733.17" stroke="#3447a5" stroke-width="1.2"/>
<line x1="43.50" y1="655.57" x2="72.10" y2="686.94" stroke="#3447a5" stroke-width="1.2"/>
<line x1="43.50" y1="642.28" x2="72.10" y2="733.98" stroke="#3447a5" stroke-width="1.2"/>
<line x1="43.50" y1="651.22" x2="72.10" y2="712.55" stroke="#3447a5" stroke-width="1.2"/>
<line x1="43.50" y1="660.38" x2="72.10" y2="731.31" stroke="#3447a5" stroke-width="1.2"/>
<line x1="43.50" y1="656.35" x2="72.10" y2="688.33" stroke="#3447a5" stroke-width="1.2"/>
<line x1="43.50" y1="659.78" x2="72.10" y2="676.74" stroke="#3447a5" stroke-width="1.2"/>
<rect x="27.40" y="624.20" width="61.00" height="123.70" fill="none" stroke="#111" stroke-width="1.1"/>
<line x1="23.90" y1="632.40" x2="27.40" y2="632.40" stroke="#111" stroke-width="1.0"/>
<text x="22.20" y="634.50" font-size="6.2" text-anchor="end">0.6</text>
<line x1="23.90" y1="650.00" x2="27.40" y2="650.00" stroke="#111" stroke-width="1.0"/>
<text x="22.20" y="652.10" font-size="6.2" text-anchor="end">0.4</text>
<line x1="23.90" y1="667.60" x2="27.40" y2="667.60" stroke="#111" stroke-width="1.0"/>
<text x="22.20" y="669.70" font-size="6.2" text-anchor="end">0.2</text>
<line x1="23.90" y1="685.20" x2="27.40" y2="685.20" stroke="#111" stroke-width="1.0"/>
<text x="22.20" y="687.30" font-size="6.2" text-anchor="end">0.0</text>
<line x1="23.90" y1="702.80" x2="27.40" y2="702.80" stroke="#111" stroke-width="1.0"/>
<text x="22.20" y="704.90" font-size="6.2" text-anchor="end">−0.2</text>
<line x1="23.90" y1="720.40" x2="27.40" y2="720.40" stroke="#111" stroke-width="1.0"/>
<text x="22.20" y="722.50" font-size="6.2" text-anchor="end">−0.4</text>
<line x1="23.90" y1="738.00" x2="27.40" y2="738.00" stroke="#111" stroke-width="1.0"/>
<text x="22.20" y="740.10" font-size="6.2" text-anchor="end">−0.6</text>
<line x1="43.50" y1="747.90" x2="43.50" y2="751.40" stroke="#111" stroke-width="1.0"/>
<line x1="72.10" y1="747.90" x2="72.10" y2="751.40" stroke="#111" stroke-width="1.0"/>
<text x="41.90" y="759.30" font-size="6.85" text-anchor="middle">Baseline</text>
<text x="71.40" y="759.30" font-size="6.85" text-anchor="middle">Surgery</text>
<text x="6.30" y="686.55" font-size="8.5" text-anchor="middle" transform="rotate(-90 6.30 686.55)">Luminal B signature score</text>
<text x="29.40" y="745.30" font-size="5.6" text-anchor="start">p&lt;0.001</text>
<line x1="155.40" y1="702.70" x2="183.60" y2="690.96" stroke="#ea1b23" stroke-width="1.2"/>
<line x1="155.40" y1="734.04" x2="183.60" y2="642.97" stroke="#ea1b23" stroke-width="1.2"/>
<line x1="155.40" y1="704.88" x2="183.60" y2="669.29" stroke="#ea1b23" stroke-width="1.2"/>
<line x1="155.40" y1="697.60" x2="183.60" y2="662.10" stroke="#ea1b23" stroke-width="1.2"/>
<line x1="155.40" y1="731.95" x2="183.60" y2="713.90" stroke="#ea1b23" stroke-width="1.2"/>
<line x1="155.40" y1="727.51" x2="183.60" y2="631.36" stroke="#ea1b23" stroke-width="1.2"/>
<line x1="155.40" y1="713.60" x2="183.60" y2="641.43" stroke="#ea1b23" stroke-width="1.2"/>
<line x1="155.40" y1="715.04" x2="183.60" y2="674.69" stroke="#ea1b23" stroke-width="1.2"/>
<line x1="155.40" y1="728.03" x2="183.60" y2="712.33" stroke="#ea1b23" stroke-width="1.2"/>
<line x1="155.40" y1="715.98" x2="183.60" y2="640.51" stroke="#ea1b23" stroke-width="1.2"/>
<line x1="155.40" y1="708.90" x2="183.60" y2="677.98" stroke="#ea1b23" stroke-width="1.2"/>
<line x1="155.40" y1="704.70" x2="183.60" y2="666.34" stroke="#ea1b23" stroke-width="1.2"/>
<line x1="155.40" y1="707.66" x2="183.60" y2="687.62" stroke="#ea1b23" stroke-width="1.2"/>
<line x1="155.40" y1="711.59" x2="183.60" y2="683.11" stroke="#ea1b23" stroke-width="1.2"/>
<line x1="155.40" y1="709.10" x2="183.60" y2="690.30" stroke="#ea1b23" stroke-width="1.2"/>
<line x1="155.40" y1="720.25" x2="183.60" y2="632.84" stroke="#ea1b23" stroke-width="1.2"/>
<line x1="155.40" y1="736.60" x2="183.60" y2="647.83" stroke="#ea1b23" stroke-width="1.2"/>
<line x1="155.40" y1="698.36" x2="183.60" y2="675.41" stroke="#ea1b23" stroke-width="1.2"/>
<line x1="155.40" y1="740.98" x2="183.60" y2="713.90" stroke="#ea1b23" stroke-width="1.2"/>
<line x1="155.40" y1="702.12" x2="183.60" y2="631.47" stroke="#ea1b23" stroke-width="1.2"/>
<line x1="155.40" y1="710.73" x2="183.60" y2="669.23" stroke="#ea1b23" stroke-width="1.2"/>
<line x1="155.40" y1="696.03" x2="183.60" y2="674.12" stroke="#ea1b23" stroke-width="1.2"/>
<line x1="155.40" y1="704.72" x2="183.60" y2="679.60" stroke="#ea1b23" stroke-width="1.2"/>
<line x1="155.40" y1="725.67" x2="183.60" y2="713.11" stroke="#ea1b23" stroke-width="1.2"/>
<line x1="155.40" y1="720.64" x2="183.60" y2="665.05" stroke="#ea1b23" stroke-width="1.2"/>
<line x1="155.40" y1="733.90" x2="183.60" y2="658.44" stroke="#ea1b23" stroke-width="1.2"/>
<line x1="155.40" y1="721.41" x2="183.60" y2="639.43" stroke="#ea1b23" stroke-width="1.2"/>
<line x1="155.40" y1="705.54" x2="183.60" y2="677.12" stroke="#ea1b23" stroke-width="1.2"/>
<line x1="155.40" y1="711.24" x2="183.60" y2="651.52" stroke="#ea1b23" stroke-width="1.2"/>
<line x1="155.40" y1="720.07" x2="183.60" y2="638.38" stroke="#ea1b23" stroke-width="1.2"/>
<line x1="155.40" y1="722.99" x2="183.60" y2="673.69" stroke="#ea1b23" stroke-width="1.2"/>
<line x1="155.40" y1="732.98" x2="183.60" y2="662.04" stroke="#ea1b23" stroke-width="1.2"/>
<line x1="155.40" y1="718.72" x2="183.60" y2="665.17" stroke="#ea1b23" stroke-width="1.2"/>
<line x1="155.40" y1="717.23" x2="183.60" y2="645.15" stroke="#ea1b23" stroke-width="1.2"/>
<line x1="155.40" y1="724.81" x2="183.60" y2="667.80" stroke="#ea1b23" stroke-width="1.2"/>
<line x1="155.40" y1="729.23" x2="183.60" y2="669.13" stroke="#ea1b23" stroke-width="1.2"/>
<line x1="155.40" y1="711.30" x2="183.60" y2="675.94" stroke="#ea1b23" stroke-width="1.2"/>
<line x1="155.40" y1="696.46" x2="183.60" y2="657.13" stroke="#ea1b23" stroke-width="1.2"/>
<line x1="155.40" y1="720.69" x2="183.60" y2="672.41" stroke="#ea1b23" stroke-width="1.2"/>
<line x1="155.40" y1="738.23" x2="183.60" y2="714.68" stroke="#ea1b23" stroke-width="1.2"/>
<line x1="155.40" y1="731.34" x2="183.60" y2="640.92" stroke="#ea1b23" stroke-width="1.2"/>
<line x1="155.40" y1="715.87" x2="183.60" y2="646.37" stroke="#ea1b23" stroke-width="1.2"/>
<line x1="155.40" y1="710.18" x2="183.60" y2="677.21" stroke="#ea1b23" stroke-width="1.2"/>
<line x1="155.40" y1="710.83" x2="183.60" y2="683.37" stroke="#ea1b23" stroke-width="1.2"/>
<line x1="155.40" y1="730.38" x2="183.60" y2="672.88" stroke="#ea1b23" stroke-width="1.2"/>
<line x1="155.40" y1="714.94" x2="183.60" y2="656.27" stroke="#ea1b23" stroke-width="1.2"/>
<line x1="155.40" y1="721.57" x2="183.60" y2="666.82" stroke="#ea1b23" stroke-width="1.2"/>
<line x1="155.40" y1="697.41" x2="183.60" y2="629.12" stroke="#ea1b23" stroke-width="1.2"/>
<line x1="155.40" y1="716.28" x2="183.60" y2="640.36" stroke="#ea1b23" stroke-width="1.2"/>
<line x1="155.40" y1="697.92" x2="183.60" y2="664.71" stroke="#ea1b23" stroke-width="1.2"/>
<line x1="155.40" y1="718.78" x2="183.60" y2="677.55" stroke="#ea1b23" stroke-width="1.2"/>
<line x1="155.40" y1="707.49" x2="183.60" y2="651.79" stroke="#ea1b23" stroke-width="1.2"/>
<line x1="155.40" y1="709.29" x2="183.60" y2="674.55" stroke="#ea1b23" stroke-width="1.2"/>
<line x1="155.40" y1="718.21" x2="183.60" y2="723.08" stroke="#3447a5" stroke-width="1.2"/>
<rect x="138.90" y="624.40" width="61.50" height="124.00" fill="none" stroke="#111" stroke-width="1.1"/>
<line x1="135.40" y1="653.45" x2="138.90" y2="653.45" stroke="#111" stroke-width="1.0"/>
<text x="133.70" y="655.55" font-size="6.2" text-anchor="end">0.5</text>
<line x1="135.40" y1="692.70" x2="138.90" y2="692.70" stroke="#111" stroke-width="1.0"/>
<text x="133.70" y="694.80" font-size="6.2" text-anchor="end">0.0</text>
<line x1="135.40" y1="731.95" x2="138.90" y2="731.95" stroke="#111" stroke-width="1.0"/>
<text x="133.70" y="734.05" font-size="6.2" text-anchor="end">−0.5</text>
<line x1="155.40" y1="748.40" x2="155.40" y2="751.90" stroke="#111" stroke-width="1.0"/>
<line x1="183.60" y1="748.40" x2="183.60" y2="751.90" stroke="#111" stroke-width="1.0"/>
<text x="156.00" y="759.10" font-size="6.85" text-anchor="middle">Baseline</text>
<text x="185.85" y="759.10" font-size="6.85" text-anchor="middle">Surgery</text>
<text x="117.80" y="687.40" font-size="8.5" text-anchor="middle" transform="rotate(-90 117.80 687.40)">Normal-like signature score</text>
<text x="140.90" y="745.80" font-size="5.6" text-anchor="start">p&lt;0.001</text>
<line x1="267.60" y1="657.64" x2="295.80" y2="726.41" stroke="#3447a5" stroke-width="1.2"/>
<line x1="267.60" y1="634.21" x2="295.80" y2="742.57" stroke="#3447a5" stroke-width="1.2"/>
<line x1="267.60" y1="641.92" x2="295.80" y2="705.53" stroke="#3447a5" stroke-width="1.2"/>
<line x1="267.60" y1="641.13" x2="295.80" y2="742.21" stroke="#3447a5" stroke-width="1.2"/>
<line x1="267.60" y1="660.53" x2="295.80" y2="699.54" stroke="#3447a5" stroke-width="1.2"/>
<line x1="267.60" y1="677.42" x2="295.80" y2="703.39" stroke="#3447a5" stroke-width="1.2"/>
<line x1="267.60" y1="653.53" x2="295.80" y2="695.99" stroke="#3447a5" stroke-width="1.2"/>
<line x1="267.60" y1="641.87" x2="295.80" y2="701.46" stroke="#3447a5" stroke-width="1.2"/>
<line x1="267.60" y1="664.48" x2="295.80" y2="710.60" stroke="#3447a5" stroke-width="1.2"/>
<line x1="267.60" y1="659.28" x2="295.80" y2="687.24" stroke="#3447a5" stroke-width="1.2"/>
<line x1="267.60" y1="645.16" x2="295.80" y2="731.18" stroke="#3447a5" stroke-width="1.2"/>
<line x1="267.60" y1="672.68" x2="295.80" y2="678.28" stroke="#3447a5" stroke-width="1.2"/>
<line x1="267.60" y1="670.52" x2="295.80" y2="679.34" stroke="#3447a5" stroke-width="1.2"/>
<line x1="267.60" y1="652.91" x2="295.80" y2="735.78" stroke="#3447a5" stroke-width="1.2"/>
<line x1="267.60" y1="651.22" x2="295.80" y2="691.49" stroke="#3447a5" stroke-width="1.2"/>
<line x1="267.60" y1="665.22" x2="295.80" y2="701.65" stroke="#3447a5" stroke-width="1.2"/>
<line x1="267.60" y1="639.84" x2="295.80" y2="739.97" stroke="#3447a5" stroke-width="1.2"/>
<line x1="267.60" y1="655.22" x2="295.80" y2="668.32" stroke="#3447a5" stroke-width="1.2"/>
<line x1="267.60" y1="668.46" x2="295.80" y2="706.54" stroke="#3447a5" stroke-width="1.2"/>
<line x1="267.60" y1="662.79" x2="295.80" y2="649.98" stroke="#ea1b23" stroke-width="1.2"/>
<line x1="267.60" y1="632.99" x2="295.80" y2="728.34" stroke="#3447a5" stroke-width="1.2"/>
<line x1="267.60" y1="689.18" x2="295.80" y2="690.44" stroke="#3447a5" stroke-width="1.2"/>
<line x1="267.60" y1="662.22" x2="295.80" y2="709.28" stroke="#3447a5" stroke-width="1.2"/>
<line x1="267.60" y1="648.18" x2="295.80" y2="707.33" stroke="#3447a5" stroke-width="1.2"/>
<line x1="267.60" y1="661.63" x2="295.80" y2="704.88" stroke="#3447a5" stroke-width="1.2"/>
<line x1="267.60" y1="658.47" x2="295.80" y2="689.96" stroke="#3447a5" stroke-width="1.2"/>
<line x1="267.60" y1="657.14" x2="295.80" y2="698.23" stroke="#3447a5" stroke-width="1.2"/>
<line x1="267.60" y1="641.11" x2="295.80" y2="735.29" stroke="#3447a5" stroke-width="1.2"/>
<line x1="267.60" y1="635.89" x2="295.80" y2="733.97" stroke="#3447a5" stroke-width="1.2"/>
<line x1="267.60" y1="661.25" x2="295.80" y2="690.22" stroke="#3447a5" stroke-width="1.2"/>
<line x1="267.60" y1="637.84" x2="295.80" y2="705.28" stroke="#3447a5" stroke-width="1.2"/>
<line x1="267.60" y1="643.11" x2="295.80" y2="631.94" stroke="#ea1b23" stroke-width="1.2"/>
<line x1="267.60" y1="667.95" x2="295.80" y2="727.34" stroke="#3447a5" stroke-width="1.2"/>
<line x1="267.60" y1="687.60" x2="295.80" y2="690.64" stroke="#3447a5" stroke-width="1.2"/>
<line x1="267.60" y1="685.21" x2="295.80" y2="723.79" stroke="#3447a5" stroke-width="1.2"/>
<line x1="267.60" y1="662.60" x2="295.80" y2="730.31" stroke="#3447a5" stroke-width="1.2"/>
<line x1="267.60" y1="662.64" x2="295.80" y2="728.45" stroke="#3447a5" stroke-width="1.2"/>
<line x1="267.60" y1="665.43" x2="295.80" y2="678.95" stroke="#3447a5" stroke-width="1.2"/>
<line x1="267.60" y1="687.91" x2="295.80" y2="681.56" stroke="#3447a5" stroke-width="1.2"/>
<line x1="267.60" y1="639.91" x2="295.80" y2="743.59" stroke="#3447a5" stroke-width="1.2"/>
<line x1="267.60" y1="650.23" x2="295.80" y2="728.53" stroke="#3447a5" stroke-width="1.2"/>
<line x1="267.60" y1="652.85" x2="295.80" y2="700.71" stroke="#3447a5" stroke-width="1.2"/>
<line x1="267.60" y1="660.85" x2="295.80" y2="717.33" stroke="#3447a5" stroke-width="1.2"/>
<line x1="267.60" y1="670.05" x2="295.80" y2="713.64" stroke="#3447a5" stroke-width="1.2"/>
<line x1="267.60" y1="666.30" x2="295.80" y2="701.75" stroke="#3447a5" stroke-width="1.2"/>
<line x1="267.60" y1="684.32" x2="295.80" y2="678.21" stroke="#ea1b23" stroke-width="1.2"/>
<line x1="267.60" y1="681.24" x2="295.80" y2="673.29" stroke="#3447a5" stroke-width="1.2"/>
<line x1="267.60" y1="654.43" x2="295.80" y2="742.68" stroke="#3447a5" stroke-width="1.2"/>
<line x1="267.60" y1="686.19" x2="295.80" y2="704.05" stroke="#3447a5" stroke-width="1.2"/>
<line x1="267.60" y1="629.03" x2="295.80" y2="678.50" stroke="#3447a5" stroke-width="1.2"/>
<line x1="267.60" y1="660.14" x2="295.80" y2="692.53" stroke="#3447a5" stroke-width="1.2"/>
<line x1="267.60" y1="649.40" x2="295.80" y2="663.37" stroke="#3447a5" stroke-width="1.2"/>
<rect x="251.40" y="624.40" width="61.20" height="123.60" fill="none" stroke="#111" stroke-width="1.1"/>
<line x1="247.90" y1="649.40" x2="251.40" y2="649.40" stroke="#111" stroke-width="1.0"/>
<text x="246.20" y="651.50" font-size="6.2" text-anchor="end">0.5</text>
<line x1="247.90" y1="678.50" x2="251.40" y2="678.50" stroke="#111" stroke-width="1.0"/>
<text x="246.20" y="680.60" font-size="6.2" text-anchor="end">0.0</text>
<line x1="247.90" y1="707.60" x2="251.40" y2="707.60" stroke="#111" stroke-width="1.0"/>
<text x="246.20" y="709.70" font-size="6.2" text-anchor="end">−0.5</text>
<line x1="247.90" y1="736.70" x2="251.40" y2="736.70" stroke="#111" stroke-width="1.0"/>
<text x="246.20" y="738.80" font-size="6.2" text-anchor="end">−1.0</text>
<line x1="267.60" y1="748.00" x2="267.60" y2="751.50" stroke="#111" stroke-width="1.0"/>
<line x1="295.80" y1="748.00" x2="295.80" y2="751.50" stroke="#111" stroke-width="1.0"/>
<text x="268.25" y="759.10" font-size="6.85" text-anchor="middle">Baseline</text>
<text x="297.95" y="759.10" font-size="6.85" text-anchor="middle">Surgery</text>
<text x="229.70" y="689.60" font-size="8.5" text-anchor="middle" transform="rotate(-90 229.70 689.60)">Proliferation score</text>
<text x="253.40" y="745.40" font-size="5.6" text-anchor="start">p&lt;0.001</text>
<line x1="411.10" y1="486.45" x2="439.70" y2="513.48" stroke="#3447a5" stroke-width="1.2"/>
<line x1="411.10" y1="494.40" x2="439.70" y2="554.82" stroke="#3447a5" stroke-width="1.2"/>
<line x1="411.10" y1="513.48" x2="439.70" y2="546.87" stroke="#3447a5" stroke-width="1.2"/>
<line x1="411.10" y1="511.89" x2="439.70" y2="517.46" stroke="#3447a5" stroke-width="1.2"/>
<line x1="411.10" y1="486.45" x2="439.70" y2="516.66" stroke="#3447a5" stroke-width="1.2"/>
<line x1="411.10" y1="543.69" x2="439.70" y2="565.95" stroke="#3447a5" stroke-width="1.2"/>
<line x1="411.10" y1="588.21" x2="439.70" y2="580.26" stroke="#ea1b23" stroke-width="1.2"/>
<line x1="411.10" y1="518.25" x2="439.70" y2="486.45" stroke="#ea1b23" stroke-width="1.2"/>
<line x1="411.10" y1="581.85" x2="439.70" y2="580.26" stroke="#ea1b23" stroke-width="1.2"/>
<line x1="411.10" y1="583.44" x2="439.70" y2="488.04" stroke="#ea1b23" stroke-width="1.2"/>
<line x1="411.10" y1="523.02" x2="439.70" y2="473.73" stroke="#ea1b23" stroke-width="1.2"/>
<line x1="411.10" y1="581.85" x2="439.70" y2="494.40" stroke="#ea1b23" stroke-width="1.2"/>
<line x1="411.10" y1="558.00" x2="439.70" y2="535.74" stroke="#ea1b23" stroke-width="1.2"/>
<line x1="411.10" y1="543.69" x2="439.70" y2="484.86" stroke="#ea1b23" stroke-width="1.2"/>
<line x1="411.10" y1="572.31" x2="439.70" y2="550.05" stroke="#ea1b23" stroke-width="1.2"/>
<line x1="411.10" y1="561.18" x2="439.70" y2="543.69" stroke="#ea1b23" stroke-width="1.2"/>
<line x1="411.10" y1="551.64" x2="439.70" y2="524.61" stroke="#ea1b23" stroke-width="1.2"/>
<rect x="395.00" y="469.20" width="61.60" height="122.90" fill="none" stroke="#111" stroke-width="1.1"/>
<line x1="390.80" y1="478.50" x2="395.00" y2="478.50" stroke="#111" stroke-width="1.0"/>
<text x="388.90" y="480.60" font-size="5.8" text-anchor="end">0.0</text>
<line x1="390.80" y1="494.40" x2="395.00" y2="494.40" stroke="#111" stroke-width="1.0"/>
<text x="388.90" y="496.50" font-size="5.8" text-anchor="end">−0.1</text>
<line x1="390.80" y1="510.30" x2="395.00" y2="510.30" stroke="#111" stroke-width="1.0"/>
<text x="388.90" y="512.40" font-size="5.8" text-anchor="end">−0.2</text>
<line x1="390.80" y1="526.20" x2="395.00" y2="526.20" stroke="#111" stroke-width="1.0"/>
<text x="388.90" y="528.30" font-size="5.8" text-anchor="end">−0.3</text>
<line x1="390.80" y1="542.10" x2="395.00" y2="542.10" stroke="#111" stroke-width="1.0"/>
<text x="388.90" y="544.20" font-size="5.8" text-anchor="end">−0.4</text>
<line x1="390.80" y1="558.00" x2="395.00" y2="558.00" stroke="#111" stroke-width="1.0"/>
<text x="388.90" y="560.10" font-size="5.8" text-anchor="end">−0.5</text>
<line x1="390.80" y1="573.90" x2="395.00" y2="573.90" stroke="#111" stroke-width="1.0"/>
<text x="388.90" y="576.00" font-size="5.8" text-anchor="end">−0.6</text>
<line x1="390.80" y1="589.80" x2="395.00" y2="589.80" stroke="#111" stroke-width="1.0"/>
<text x="388.90" y="591.90" font-size="5.8" text-anchor="end">−0.7</text>
<line x1="411.10" y1="592.10" x2="411.10" y2="595.60" stroke="#111" stroke-width="1.0"/>
<line x1="439.70" y1="592.10" x2="439.70" y2="595.60" stroke="#111" stroke-width="1.0"/>
<text x="410.05" y="602.30" font-size="6.85" text-anchor="middle">Baseline</text>
<text x="439.85" y="602.30" font-size="6.85" text-anchor="middle">Surgery</text>
<text x="372.90" y="531.75" font-size="8.5" text-anchor="middle" transform="rotate(-90 372.90 531.75)">Basal-like signature score</text>
<text x="453.20" y="589.70" font-size="5.6" text-anchor="end">p=0.349</text>
<line x1="523.50" y1="479.80" x2="551.50" y2="560.87" stroke="#3447a5" stroke-width="1.2"/>
<line x1="523.50" y1="516.10" x2="551.50" y2="562.08" stroke="#3447a5" stroke-width="1.2"/>
<line x1="523.50" y1="485.85" x2="551.50" y2="514.89" stroke="#3447a5" stroke-width="1.2"/>
<line x1="523.50" y1="553.61" x2="551.50" y2="574.18" stroke="#3447a5" stroke-width="1.2"/>
<line x1="523.50" y1="530.62" x2="551.50" y2="575.39" stroke="#3447a5" stroke-width="1.2"/>
<line x1="523.50" y1="529.41" x2="551.50" y2="537.88" stroke="#3447a5" stroke-width="1.2"/>
<line x1="523.50" y1="483.43" x2="551.50" y2="493.11" stroke="#3447a5" stroke-width="1.2"/>
<line x1="523.50" y1="579.02" x2="551.50" y2="586.28" stroke="#3447a5" stroke-width="1.2"/>
<line x1="523.50" y1="513.68" x2="551.50" y2="540.30" stroke="#3447a5" stroke-width="1.2"/>
<line x1="523.50" y1="546.35" x2="551.50" y2="585.07" stroke="#3447a5" stroke-width="1.2"/>
<line x1="523.50" y1="574.18" x2="551.50" y2="560.87" stroke="#ea1b23" stroke-width="1.2"/>
<line x1="523.50" y1="528.20" x2="551.50" y2="494.32" stroke="#ea1b23" stroke-width="1.2"/>
<line x1="523.50" y1="586.28" x2="551.50" y2="564.50" stroke="#ea1b23" stroke-width="1.2"/>
<line x1="523.50" y1="540.30" x2="551.50" y2="510.05" stroke="#ea1b23" stroke-width="1.2"/>
<line x1="523.50" y1="510.05" x2="551.50" y2="494.32" stroke="#ea1b23" stroke-width="1.2"/>
<line x1="523.50" y1="495.53" x2="551.50" y2="473.75" stroke="#ea1b23" stroke-width="1.2"/>
<rect x="506.90" y="468.70" width="61.30" height="123.40" fill="none" stroke="#111" stroke-width="1.1"/>
<line x1="502.70" y1="479.80" x2="506.90" y2="479.80" stroke="#111" stroke-width="1.0"/>
<text x="500.80" y="481.90" font-size="5.8" text-anchor="end">0.4</text>
<line x1="502.70" y1="504.00" x2="506.90" y2="504.00" stroke="#111" stroke-width="1.0"/>
<text x="500.80" y="506.10" font-size="5.8" text-anchor="end">0.2</text>
<line x1="502.70" y1="528.20" x2="506.90" y2="528.20" stroke="#111" stroke-width="1.0"/>
<text x="500.80" y="530.30" font-size="5.8" text-anchor="end">0.0</text>
<line x1="502.70" y1="552.40" x2="506.90" y2="552.40" stroke="#111" stroke-width="1.0"/>
<text x="500.80" y="554.50" font-size="5.8" text-anchor="end">−0.2</text>
<line x1="502.70" y1="576.60" x2="506.90" y2="576.60" stroke="#111" stroke-width="1.0"/>
<text x="500.80" y="578.70" font-size="5.8" text-anchor="end">−0.4</text>
<line x1="523.50" y1="592.10" x2="523.50" y2="595.60" stroke="#111" stroke-width="1.0"/>
<line x1="551.50" y1="592.10" x2="551.50" y2="595.60" stroke="#111" stroke-width="1.0"/>
<text x="524.85" y="602.30" font-size="6.85" text-anchor="middle">Baseline</text>
<text x="554.50" y="602.30" font-size="6.85" text-anchor="middle">Surgery</text>
<text x="484.80" y="533.10" font-size="8.5" text-anchor="middle" transform="rotate(-90 484.80 533.10)">HER2-enriched signature score</text>
<text x="508.90" y="589.50" font-size="5.6" text-anchor="start">p=0.194</text>
<line x1="637.20" y1="518.09" x2="665.60" y2="518.09" stroke="#3447a5" stroke-width="1.2"/>
<line x1="637.20" y1="507.01" x2="665.60" y2="518.09" stroke="#3447a5" stroke-width="1.2"/>
<line x1="637.20" y1="476.80" x2="665.60" y2="509.03" stroke="#3447a5" stroke-width="1.2"/>
<line x1="637.20" y1="482.85" x2="665.60" y2="502.99" stroke="#3447a5" stroke-width="1.2"/>
<line x1="637.20" y1="489.90" x2="665.60" y2="499.97" stroke="#3447a5" stroke-width="1.2"/>
<line x1="637.20" y1="487.88" x2="665.60" y2="494.93" stroke="#3447a5" stroke-width="1.2"/>
<line x1="637.20" y1="577.50" x2="665.60" y2="573.48" stroke="#ea1b23" stroke-width="1.2"/>
<line x1="637.20" y1="557.37" x2="665.60" y2="545.28" stroke="#ea1b23" stroke-width="1.2"/>
<line x1="637.20" y1="518.09" x2="665.60" y2="512.05" stroke="#ea1b23" stroke-width="1.2"/>
<line x1="637.20" y1="552.33" x2="665.60" y2="534.20" stroke="#ea1b23" stroke-width="1.2"/>
<line x1="637.20" y1="530.18" x2="665.60" y2="499.97" stroke="#ea1b23" stroke-width="1.2"/>
<line x1="637.20" y1="577.50" x2="665.60" y2="565.42" stroke="#ea1b23" stroke-width="1.2"/>
<line x1="637.20" y1="587.57" x2="665.60" y2="495.94" stroke="#ea1b23" stroke-width="1.2"/>
<line x1="637.20" y1="545.28" x2="665.60" y2="542.26" stroke="#ea1b23" stroke-width="1.2"/>
<line x1="637.20" y1="518.09" x2="665.60" y2="473.78" stroke="#ea1b23" stroke-width="1.2"/>
<line x1="637.20" y1="541.25" x2="665.60" y2="495.94" stroke="#ea1b23" stroke-width="1.2"/>
<rect x="620.70" y="468.70" width="61.30" height="123.50" fill="none" stroke="#111" stroke-width="1.1"/>
<line x1="616.50" y1="481.84" x2="620.70" y2="481.84" stroke="#111" stroke-width="1.0"/>
<text x="614.60" y="483.94" font-size="5.8" text-anchor="end">0.8</text>
<line x1="616.50" y1="501.98" x2="620.70" y2="501.98" stroke="#111" stroke-width="1.0"/>
<text x="614.60" y="504.08" font-size="5.8" text-anchor="end">0.6</text>
<line x1="616.50" y1="522.12" x2="620.70" y2="522.12" stroke="#111" stroke-width="1.0"/>
<text x="614.60" y="524.22" font-size="5.8" text-anchor="end">0.4</text>
<line x1="616.50" y1="542.26" x2="620.70" y2="542.26" stroke="#111" stroke-width="1.0"/>
<text x="614.60" y="544.36" font-size="5.8" text-anchor="end">0.2</text>
<line x1="616.50" y1="562.40" x2="620.70" y2="562.40" stroke="#111" stroke-width="1.0"/>
<text x="614.60" y="564.50" font-size="5.8" text-anchor="end">0.0</text>
<line x1="616.50" y1="582.54" x2="620.70" y2="582.54" stroke="#111" stroke-width="1.0"/>
<text x="614.60" y="584.64" font-size="5.8" text-anchor="end">−0.2</text>
<line x1="637.20" y1="592.20" x2="637.20" y2="595.70" stroke="#111" stroke-width="1.0"/>
<line x1="665.60" y1="592.20" x2="665.60" y2="595.70" stroke="#111" stroke-width="1.0"/>
<text x="636.85" y="602.60" font-size="6.85" text-anchor="middle">Baseline</text>
<text x="666.60" y="602.60" font-size="6.85" text-anchor="middle">Surgery</text>
<text x="597.80" y="534.45" font-size="8.5" text-anchor="middle" transform="rotate(-90 597.80 534.45)">Luminal A signature score</text>
<text x="622.70" y="589.60" font-size="5.6" text-anchor="start">p=0.164</text>
<line x1="411.50" y1="724.85" x2="440.20" y2="725.74" stroke="#3447a5" stroke-width="1.2"/>
<line x1="411.50" y1="727.50" x2="440.20" y2="733.68" stroke="#3447a5" stroke-width="1.2"/>
<line x1="411.50" y1="693.95" x2="440.20" y2="699.25" stroke="#3447a5" stroke-width="1.2"/>
<line x1="411.50" y1="630.37" x2="440.20" y2="665.69" stroke="#3447a5" stroke-width="1.2"/>
<line x1="411.50" y1="635.67" x2="440.20" y2="648.03" stroke="#3447a5" stroke-width="1.2"/>
<line x1="411.50" y1="675.41" x2="440.20" y2="738.10" stroke="#3447a5" stroke-width="1.2"/>
<line x1="411.50" y1="642.73" x2="440.20" y2="701.90" stroke="#3447a5" stroke-width="1.2"/>
<line x1="411.50" y1="664.81" x2="440.20" y2="716.91" stroke="#3447a5" stroke-width="1.2"/>
<line x1="411.50" y1="630.37" x2="440.20" y2="700.13" stroke="#3447a5" stroke-width="1.2"/>
<line x1="411.50" y1="659.51" x2="440.20" y2="708.08" stroke="#3447a5" stroke-width="1.2"/>
<line x1="411.50" y1="715.14" x2="440.20" y2="743.40" stroke="#3447a5" stroke-width="1.2"/>
<line x1="411.50" y1="667.46" x2="440.20" y2="670.99" stroke="#3447a5" stroke-width="1.2"/>
<line x1="411.50" y1="710.73" x2="440.20" y2="699.25" stroke="#ea1b23" stroke-width="1.2"/>
<line x1="411.50" y1="646.27" x2="440.20" y2="644.50" stroke="#ea1b23" stroke-width="1.2"/>
<line x1="411.50" y1="698.36" x2="440.20" y2="663.93" stroke="#ea1b23" stroke-width="1.2"/>
<line x1="411.50" y1="687.77" x2="440.20" y2="673.64" stroke="#ea1b23" stroke-width="1.2"/>
<rect x="395.30" y="624.50" width="61.30" height="123.70" fill="none" stroke="#111" stroke-width="1.1"/>
<line x1="391.10" y1="638.32" x2="395.30" y2="638.32" stroke="#111" stroke-width="1.0"/>
<text x="389.20" y="640.42" font-size="5.8" text-anchor="end">0.6</text>
<line x1="391.10" y1="655.98" x2="395.30" y2="655.98" stroke="#111" stroke-width="1.0"/>
<text x="389.20" y="658.08" font-size="5.8" text-anchor="end">0.4</text>
<line x1="391.10" y1="673.64" x2="395.30" y2="673.64" stroke="#111" stroke-width="1.0"/>
<text x="389.20" y="675.74" font-size="5.8" text-anchor="end">0.2</text>
<line x1="391.10" y1="691.30" x2="395.30" y2="691.30" stroke="#111" stroke-width="1.0"/>
<text x="389.20" y="693.40" font-size="5.8" text-anchor="end">0.0</text>
<line x1="391.10" y1="708.96" x2="395.30" y2="708.96" stroke="#111" stroke-width="1.0"/>
<text x="389.20" y="711.06" font-size="5.8" text-anchor="end">−0.2</text>
<line x1="391.10" y1="726.62" x2="395.30" y2="726.62" stroke="#111" stroke-width="1.0"/>
<text x="389.20" y="728.72" font-size="5.8" text-anchor="end">−0.4</text>
<line x1="391.10" y1="744.28" x2="395.30" y2="744.28" stroke="#111" stroke-width="1.0"/>
<text x="389.20" y="746.38" font-size="5.8" text-anchor="end">−0.6</text>
<line x1="411.50" y1="748.20" x2="411.50" y2="751.70" stroke="#111" stroke-width="1.0"/>
<line x1="440.20" y1="748.20" x2="440.20" y2="751.70" stroke="#111" stroke-width="1.0"/>
<text x="409.65" y="759.10" font-size="6.85" text-anchor="middle">Baseline</text>
<text x="439.20" y="759.10" font-size="6.85" text-anchor="middle">Surgery</text>
<text x="373.20" y="686.45" font-size="8.5" text-anchor="middle" transform="rotate(-90 373.20 686.45)">Luminal B signature score</text>
<text x="397.30" y="745.60" font-size="5.6" text-anchor="start">p=0.021</text>
<line x1="524.00" y1="682.88" x2="552.10" y2="705.61" stroke="#3447a5" stroke-width="1.2"/>
<line x1="524.00" y1="682.09" x2="552.10" y2="695.42" stroke="#3447a5" stroke-width="1.2"/>
<line x1="524.00" y1="639.76" x2="552.10" y2="642.89" stroke="#3447a5" stroke-width="1.2"/>
<line x1="524.00" y1="721.29" x2="552.10" y2="732.27" stroke="#3447a5" stroke-width="1.2"/>
<line x1="524.00" y1="661.71" x2="552.10" y2="661.71" stroke="#3447a5" stroke-width="1.2"/>
<line x1="524.00" y1="681.31" x2="552.10" y2="631.13" stroke="#ea1b23" stroke-width="1.2"/>
<line x1="524.00" y1="741.68" x2="552.10" y2="676.60" stroke="#ea1b23" stroke-width="1.2"/>
<line x1="524.00" y1="710.32" x2="552.10" y2="657.00" stroke="#ea1b23" stroke-width="1.2"/>
<line x1="524.00" y1="708.75" x2="552.10" y2="664.84" stroke="#ea1b23" stroke-width="1.2"/>
<line x1="524.00" y1="704.04" x2="552.10" y2="696.99" stroke="#ea1b23" stroke-width="1.2"/>
<line x1="524.00" y1="639.76" x2="552.10" y2="632.70" stroke="#ea1b23" stroke-width="1.2"/>
<line x1="524.00" y1="742.46" x2="552.10" y2="709.53" stroke="#ea1b23" stroke-width="1.2"/>
<line x1="524.00" y1="743.24" x2="552.10" y2="653.08" stroke="#ea1b23" stroke-width="1.2"/>
<line x1="524.00" y1="658.57" x2="552.10" y2="629.56" stroke="#ea1b23" stroke-width="1.2"/>
<line x1="524.00" y1="729.92" x2="552.10" y2="717.37" stroke="#ea1b23" stroke-width="1.2"/>
<line x1="524.00" y1="740.89" x2="552.10" y2="659.36" stroke="#ea1b23" stroke-width="1.2"/>
<line x1="524.00" y1="680.52" x2="552.10" y2="665.63" stroke="#ea1b23" stroke-width="1.2"/>
<rect x="507.30" y="624.80" width="60.90" height="123.60" fill="none" stroke="#111" stroke-width="1.1"/>
<line x1="503.10" y1="652.30" x2="507.30" y2="652.30" stroke="#111" stroke-width="1.0"/>
<text x="501.20" y="654.40" font-size="5.8" text-anchor="end">0.5</text>
<line x1="503.10" y1="691.50" x2="507.30" y2="691.50" stroke="#111" stroke-width="1.0"/>
<text x="501.20" y="693.60" font-size="5.8" text-anchor="end">0.0</text>
<line x1="503.10" y1="730.70" x2="507.30" y2="730.70" stroke="#111" stroke-width="1.0"/>
<text x="501.20" y="732.80" font-size="5.8" text-anchor="end">−0.5</text>
<line x1="524.00" y1="748.40" x2="524.00" y2="751.90" stroke="#111" stroke-width="1.0"/>
<line x1="552.10" y1="748.40" x2="552.10" y2="751.90" stroke="#111" stroke-width="1.0"/>
<text x="524.10" y="759.10" font-size="6.85" text-anchor="middle">Baseline</text>
<text x="553.70" y="759.10" font-size="6.85" text-anchor="middle">Surgery</text>
<text x="485.20" y="689.90" font-size="8.5" text-anchor="middle" transform="rotate(-90 485.20 689.90)">Normal-like signature score</text>
<text x="509.30" y="745.80" font-size="5.6" text-anchor="start">p=0.012</text>
<line x1="637.20" y1="713.19" x2="665.60" y2="722.42" stroke="#3447a5" stroke-width="1.2"/>
<line x1="637.20" y1="683.06" x2="665.60" y2="724.26" stroke="#3447a5" stroke-width="1.2"/>
<line x1="637.20" y1="729.18" x2="665.60" y2="739.02" stroke="#3447a5" stroke-width="1.2"/>
<line x1="637.20" y1="664.00" x2="665.60" y2="702.74" stroke="#3447a5" stroke-width="1.2"/>
<line x1="637.20" y1="649.85" x2="665.60" y2="670.76" stroke="#3447a5" stroke-width="1.2"/>
<line x1="637.20" y1="677.52" x2="665.60" y2="686.75" stroke="#3447a5" stroke-width="1.2"/>
<line x1="637.20" y1="674.45" x2="665.60" y2="722.42" stroke="#3447a5" stroke-width="1.2"/>
<line x1="637.20" y1="681.83" x2="665.60" y2="727.34" stroke="#3447a5" stroke-width="1.2"/>
<line x1="637.20" y1="656.00" x2="665.60" y2="673.83" stroke="#3447a5" stroke-width="1.2"/>
<line x1="637.20" y1="628.94" x2="665.60" y2="743.33" stroke="#3447a5" stroke-width="1.2"/>
<line x1="637.20" y1="708.89" x2="665.60" y2="725.50" stroke="#3447a5" stroke-width="1.2"/>
<line x1="637.20" y1="729.18" x2="665.60" y2="711.35" stroke="#ea1b23" stroke-width="1.2"/>
<line x1="637.20" y1="698.43" x2="665.60" y2="686.75" stroke="#ea1b23" stroke-width="1.2"/>
<line x1="637.20" y1="655.38" x2="665.60" y2="651.69" stroke="#ea1b23" stroke-width="1.2"/>
<line x1="637.20" y1="700.89" x2="665.60" y2="700.28" stroke="#ea1b23" stroke-width="1.2"/>
<line x1="637.20" y1="736.56" x2="665.60" y2="722.42" stroke="#ea1b23" stroke-width="1.2"/>
<rect x="620.70" y="624.40" width="61.30" height="124.00" fill="none" stroke="#111" stroke-width="1.1"/>
<line x1="616.50" y1="637.55" x2="620.70" y2="637.55" stroke="#111" stroke-width="1.0"/>
<text x="614.60" y="639.65" font-size="5.8" text-anchor="end">0.5</text>
<line x1="616.50" y1="668.30" x2="620.70" y2="668.30" stroke="#111" stroke-width="1.0"/>
<text x="614.60" y="670.40" font-size="5.8" text-anchor="end">0.0</text>
<line x1="616.50" y1="699.05" x2="620.70" y2="699.05" stroke="#111" stroke-width="1.0"/>
<text x="614.60" y="701.15" font-size="5.8" text-anchor="end">−0.5</text>
<line x1="616.50" y1="729.80" x2="620.70" y2="729.80" stroke="#111" stroke-width="1.0"/>
<text x="614.60" y="731.90" font-size="5.8" text-anchor="end">−1.0</text>
<line x1="637.20" y1="748.40" x2="637.20" y2="751.90" stroke="#111" stroke-width="1.0"/>
<line x1="665.60" y1="748.40" x2="665.60" y2="751.90" stroke="#111" stroke-width="1.0"/>
<text x="636.15" y="759.30" font-size="6.85" text-anchor="middle">Baseline</text>
<text x="665.70" y="759.30" font-size="6.85" text-anchor="middle">Surgery</text>
<text x="596.00" y="690.10" font-size="8.5" text-anchor="middle" transform="rotate(-90 596.00 690.10)">Proliferation score</text>
<text x="622.70" y="745.80" font-size="5.6" text-anchor="start">p=0.018</text>
<line x1="156.80" y1="877.17" x2="184.70" y2="933.38" stroke="#3447a5" stroke-width="1.2"/>
<line x1="156.80" y1="918.39" x2="184.70" y2="954.61" stroke="#3447a5" stroke-width="1.2"/>
<line x1="156.80" y1="855.19" x2="184.70" y2="887.91" stroke="#3447a5" stroke-width="1.2"/>
<line x1="156.80" y1="913.39" x2="184.70" y2="959.61" stroke="#3447a5" stroke-width="1.2"/>
<line x1="156.80" y1="908.40" x2="184.70" y2="959.61" stroke="#3447a5" stroke-width="1.2"/>
<line x1="156.80" y1="856.56" x2="184.70" y2="922.13" stroke="#3447a5" stroke-width="1.2"/>
<line x1="156.80" y1="895.91" x2="184.70" y2="949.61" stroke="#3447a5" stroke-width="1.2"/>
<line x1="156.80" y1="868.68" x2="184.70" y2="880.17" stroke="#3447a5" stroke-width="1.2"/>
<line x1="156.80" y1="907.15" x2="184.70" y2="957.11" stroke="#3447a5" stroke-width="1.2"/>
<line x1="156.80" y1="910.89" x2="184.70" y2="965.85" stroke="#3447a5" stroke-width="1.2"/>
<line x1="156.80" y1="860.31" x2="184.70" y2="934.62" stroke="#3447a5" stroke-width="1.2"/>
<line x1="156.80" y1="885.91" x2="184.70" y2="955.86" stroke="#3447a5" stroke-width="1.2"/>
<line x1="156.80" y1="909.64" x2="184.70" y2="962.10" stroke="#3447a5" stroke-width="1.2"/>
<line x1="156.80" y1="887.16" x2="184.70" y2="938.37" stroke="#3447a5" stroke-width="1.2"/>
<line x1="156.80" y1="859.06" x2="184.70" y2="930.88" stroke="#3447a5" stroke-width="1.2"/>
<line x1="156.80" y1="861.56" x2="184.70" y2="924.63" stroke="#3447a5" stroke-width="1.2"/>
<line x1="156.80" y1="875.17" x2="184.70" y2="940.87" stroke="#3447a5" stroke-width="1.2"/>
<line x1="156.80" y1="903.40" x2="184.70" y2="947.12" stroke="#3447a5" stroke-width="1.2"/>
<line x1="156.80" y1="867.18" x2="184.70" y2="940.87" stroke="#3447a5" stroke-width="1.2"/>
<line x1="156.80" y1="865.93" x2="184.70" y2="915.89" stroke="#3447a5" stroke-width="1.2"/>
<line x1="156.80" y1="863.43" x2="184.70" y2="938.37" stroke="#3447a5" stroke-width="1.2"/>
<line x1="156.80" y1="858.44" x2="184.70" y2="918.39" stroke="#3447a5" stroke-width="1.2"/>
<line x1="156.80" y1="857.81" x2="184.70" y2="928.38" stroke="#3447a5" stroke-width="1.2"/>
<line x1="156.80" y1="878.42" x2="184.70" y2="928.38" stroke="#3447a5" stroke-width="1.2"/>
<line x1="156.80" y1="900.90" x2="184.70" y2="940.87" stroke="#3447a5" stroke-width="1.2"/>
<line x1="156.80" y1="894.28" x2="184.70" y2="904.15" stroke="#3447a5" stroke-width="1.2"/>
<line x1="156.80" y1="905.90" x2="184.70" y2="953.36" stroke="#3447a5" stroke-width="1.2"/>
<line x1="156.80" y1="897.15" x2="184.70" y2="955.86" stroke="#3447a5" stroke-width="1.2"/>
<line x1="156.80" y1="912.14" x2="184.70" y2="969.60" stroke="#3447a5" stroke-width="1.2"/>
<line x1="156.80" y1="915.89" x2="184.70" y2="950.86" stroke="#3447a5" stroke-width="1.2"/>
<line x1="156.80" y1="875.92" x2="184.70" y2="947.12" stroke="#3447a5" stroke-width="1.2"/>
<line x1="156.80" y1="884.79" x2="184.70" y2="945.87" stroke="#3447a5" stroke-width="1.2"/>
<line x1="156.80" y1="935.62" x2="184.70" y2="937.12" stroke="#3447a5" stroke-width="1.2"/>
<line x1="156.80" y1="865.43" x2="184.70" y2="855.56" stroke="#ea1b23" stroke-width="1.2"/>
<rect x="140.30" y="850.60" width="61.00" height="123.40" fill="none" stroke="#111" stroke-width="1.1"/>
<line x1="136.80" y1="853.44" x2="140.30" y2="853.44" stroke="#111" stroke-width="1.0"/>
<text x="135.10" y="855.54" font-size="6.2" text-anchor="end">0.4</text>
<line x1="136.80" y1="878.42" x2="140.30" y2="878.42" stroke="#111" stroke-width="1.0"/>
<text x="135.10" y="880.52" font-size="6.2" text-anchor="end">0.2</text>
<line x1="136.80" y1="903.40" x2="140.30" y2="903.40" stroke="#111" stroke-width="1.0"/>
<text x="135.10" y="905.50" font-size="6.2" text-anchor="end">0.0</text>
<line x1="136.80" y1="928.38" x2="140.30" y2="928.38" stroke="#111" stroke-width="1.0"/>
<text x="135.10" y="930.48" font-size="6.2" text-anchor="end">−0.2</text>
<line x1="136.80" y1="953.36" x2="140.30" y2="953.36" stroke="#111" stroke-width="1.0"/>
<text x="135.10" y="955.46" font-size="6.2" text-anchor="end">−0.4</text>
<line x1="156.80" y1="974.00" x2="156.80" y2="977.50" stroke="#111" stroke-width="1.0"/>
<line x1="184.70" y1="974.00" x2="184.70" y2="977.50" stroke="#111" stroke-width="1.0"/>
<text x="156.80" y="986.60" font-size="6.85" text-anchor="middle">Baseline</text>
<text x="186.10" y="986.60" font-size="6.85" text-anchor="middle">Surgery</text>
<text x="118.00" y="912.30" font-size="8.5" text-anchor="middle" transform="rotate(-90 118.00 912.30)">HER2-enriched signature score</text>
<text x="142.30" y="971.40" font-size="5.6" text-anchor="start">p&lt;0.001</text>
<line x1="265.20" y1="910.68" x2="292.60" y2="932.86" stroke="#3447a5" stroke-width="1.2"/>
<line x1="265.20" y1="884.65" x2="292.60" y2="946.97" stroke="#3447a5" stroke-width="1.2"/>
<line x1="265.20" y1="915.26" x2="292.60" y2="953.28" stroke="#3447a5" stroke-width="1.2"/>
<line x1="265.20" y1="913.24" x2="292.60" y2="967.47" stroke="#3447a5" stroke-width="1.2"/>
<line x1="265.20" y1="896.54" x2="292.60" y2="933.18" stroke="#3447a5" stroke-width="1.2"/>
<line x1="265.20" y1="909.03" x2="292.60" y2="935.01" stroke="#3447a5" stroke-width="1.2"/>
<line x1="265.20" y1="866.33" x2="292.60" y2="921.19" stroke="#3447a5" stroke-width="1.2"/>
<line x1="265.20" y1="916.35" x2="292.60" y2="928.10" stroke="#3447a5" stroke-width="1.2"/>
<line x1="265.20" y1="912.14" x2="292.60" y2="964.85" stroke="#3447a5" stroke-width="1.2"/>
<line x1="265.20" y1="877.84" x2="292.60" y2="916.91" stroke="#3447a5" stroke-width="1.2"/>
<line x1="265.20" y1="916.80" x2="292.60" y2="953.94" stroke="#3447a5" stroke-width="1.2"/>
<line x1="265.20" y1="898.64" x2="292.60" y2="955.72" stroke="#3447a5" stroke-width="1.2"/>
<line x1="265.20" y1="875.55" x2="292.60" y2="920.57" stroke="#3447a5" stroke-width="1.2"/>
<line x1="265.20" y1="899.32" x2="292.60" y2="936.13" stroke="#3447a5" stroke-width="1.2"/>
<line x1="265.20" y1="866.95" x2="292.60" y2="928.09" stroke="#3447a5" stroke-width="1.2"/>
<line x1="265.20" y1="881.73" x2="292.60" y2="920.60" stroke="#3447a5" stroke-width="1.2"/>
<line x1="265.20" y1="898.05" x2="292.60" y2="920.31" stroke="#3447a5" stroke-width="1.2"/>
<line x1="265.20" y1="894.70" x2="292.60" y2="922.73" stroke="#3447a5" stroke-width="1.2"/>
<line x1="265.20" y1="926.59" x2="292.60" y2="920.12" stroke="#ea1b23" stroke-width="1.2"/>
<line x1="265.20" y1="901.02" x2="292.60" y2="918.99" stroke="#3447a5" stroke-width="1.2"/>
<line x1="265.20" y1="868.32" x2="292.60" y2="920.63" stroke="#3447a5" stroke-width="1.2"/>
<line x1="265.20" y1="913.69" x2="292.60" y2="954.45" stroke="#3447a5" stroke-width="1.2"/>
<line x1="265.20" y1="883.40" x2="292.60" y2="917.89" stroke="#3447a5" stroke-width="1.2"/>
<line x1="265.20" y1="904.69" x2="292.60" y2="941.88" stroke="#3447a5" stroke-width="1.2"/>
<line x1="265.20" y1="909.07" x2="292.60" y2="952.70" stroke="#3447a5" stroke-width="1.2"/>
<line x1="265.20" y1="878.93" x2="292.60" y2="924.08" stroke="#3447a5" stroke-width="1.2"/>
<line x1="265.20" y1="913.30" x2="292.60" y2="941.54" stroke="#3447a5" stroke-width="1.2"/>
<line x1="265.20" y1="919.43" x2="292.60" y2="969.96" stroke="#3447a5" stroke-width="1.2"/>
<line x1="265.20" y1="901.28" x2="292.60" y2="957.78" stroke="#3447a5" stroke-width="1.2"/>
<line x1="265.20" y1="869.16" x2="292.60" y2="912.95" stroke="#3447a5" stroke-width="1.2"/>
<line x1="265.20" y1="883.78" x2="292.60" y2="915.63" stroke="#3447a5" stroke-width="1.2"/>
<line x1="265.20" y1="910.73" x2="292.60" y2="964.68" stroke="#3447a5" stroke-width="1.2"/>
<line x1="265.20" y1="896.68" x2="292.60" y2="921.54" stroke="#3447a5" stroke-width="1.2"/>
<line x1="265.20" y1="901.96" x2="292.60" y2="934.10" stroke="#3447a5" stroke-width="1.2"/>
<line x1="265.20" y1="916.62" x2="292.60" y2="928.53" stroke="#3447a5" stroke-width="1.2"/>
<line x1="265.20" y1="870.86" x2="292.60" y2="915.14" stroke="#3447a5" stroke-width="1.2"/>
<line x1="265.20" y1="880.03" x2="292.60" y2="920.05" stroke="#3447a5" stroke-width="1.2"/>
<line x1="265.20" y1="884.72" x2="292.60" y2="948.80" stroke="#3447a5" stroke-width="1.2"/>
<line x1="265.20" y1="872.38" x2="292.60" y2="914.06" stroke="#3447a5" stroke-width="1.2"/>
<line x1="265.20" y1="898.45" x2="292.60" y2="924.02" stroke="#3447a5" stroke-width="1.2"/>
<line x1="265.20" y1="871.10" x2="292.60" y2="915.67" stroke="#3447a5" stroke-width="1.2"/>
<line x1="265.20" y1="896.70" x2="292.60" y2="944.16" stroke="#3447a5" stroke-width="1.2"/>
<line x1="265.20" y1="901.68" x2="292.60" y2="957.40" stroke="#3447a5" stroke-width="1.2"/>
<line x1="265.20" y1="902.98" x2="292.60" y2="882.66" stroke="#ea1b23" stroke-width="1.2"/>
<line x1="265.20" y1="861.67" x2="292.60" y2="855.20" stroke="#ea1b23" stroke-width="1.2"/>
<rect x="248.70" y="850.60" width="60.00" height="123.80" fill="none" stroke="#111" stroke-width="1.1"/>
<line x1="245.20" y1="861.10" x2="248.70" y2="861.10" stroke="#111" stroke-width="1.0"/>
<text x="243.50" y="863.20" font-size="6.2" text-anchor="end">0.4</text>
<line x1="245.20" y1="883.80" x2="248.70" y2="883.80" stroke="#111" stroke-width="1.0"/>
<text x="243.50" y="885.90" font-size="6.2" text-anchor="end">0.2</text>
<line x1="245.20" y1="906.50" x2="248.70" y2="906.50" stroke="#111" stroke-width="1.0"/>
<text x="243.50" y="908.60" font-size="6.2" text-anchor="end">0.0</text>
<line x1="245.20" y1="929.20" x2="248.70" y2="929.20" stroke="#111" stroke-width="1.0"/>
<text x="243.50" y="931.30" font-size="6.2" text-anchor="end">−0.2</text>
<line x1="245.20" y1="951.90" x2="248.70" y2="951.90" stroke="#111" stroke-width="1.0"/>
<text x="243.50" y="954.00" font-size="6.2" text-anchor="end">−0.4</text>
<line x1="265.20" y1="974.40" x2="265.20" y2="977.90" stroke="#111" stroke-width="1.0"/>
<line x1="292.60" y1="974.40" x2="292.60" y2="977.90" stroke="#111" stroke-width="1.0"/>
<text x="265.75" y="986.30" font-size="6.85" text-anchor="middle">Baseline</text>
<text x="295.10" y="986.30" font-size="6.85" text-anchor="middle">Surgery</text>
<text x="226.80" y="910.70" font-size="8.5" text-anchor="middle" transform="rotate(-90 226.80 910.70)">HER2-enriched signature score</text>
<text x="250.70" y="971.80" font-size="5.6" text-anchor="start">p&lt;0.001</text>
<line x1="421.50" y1="905.50" x2="449.20" y2="958.43" stroke="#3447a5" stroke-width="1.2"/>
<line x1="421.50" y1="888.75" x2="449.20" y2="918.90" stroke="#3447a5" stroke-width="1.2"/>
<line x1="421.50" y1="961.78" x2="449.20" y2="969.15" stroke="#3447a5" stroke-width="1.2"/>
<line x1="421.50" y1="855.25" x2="449.20" y2="866.64" stroke="#3447a5" stroke-width="1.2"/>
<rect x="405.30" y="850.60" width="60.50" height="123.80" fill="none" stroke="#111" stroke-width="1.1"/>
<line x1="401.10" y1="851.90" x2="405.30" y2="851.90" stroke="#111" stroke-width="1.0"/>
<text x="399.20" y="854.00" font-size="5.8" text-anchor="end">0.4</text>
<line x1="401.10" y1="878.70" x2="405.30" y2="878.70" stroke="#111" stroke-width="1.0"/>
<text x="399.20" y="880.80" font-size="5.8" text-anchor="end">0.2</text>
<line x1="401.10" y1="905.50" x2="405.30" y2="905.50" stroke="#111" stroke-width="1.0"/>
<text x="399.20" y="907.60" font-size="5.8" text-anchor="end">0.0</text>
<line x1="401.10" y1="932.30" x2="405.30" y2="932.30" stroke="#111" stroke-width="1.0"/>
<text x="399.20" y="934.40" font-size="5.8" text-anchor="end">−0.2</text>
<line x1="401.10" y1="959.10" x2="405.30" y2="959.10" stroke="#111" stroke-width="1.0"/>
<text x="399.20" y="961.20" font-size="5.8" text-anchor="end">−0.4</text>
<line x1="421.50" y1="974.40" x2="421.50" y2="977.90" stroke="#111" stroke-width="1.0"/>
<line x1="449.20" y1="974.40" x2="449.20" y2="977.90" stroke="#111" stroke-width="1.0"/>
<text x="420.90" y="987.00" font-size="6.85" text-anchor="middle">Baseline</text>
<text x="450.00" y="987.00" font-size="6.85" text-anchor="middle">Surgery</text>
<text x="382.60" y="910.60" font-size="8.5" text-anchor="middle" transform="rotate(-90 382.60 910.60)">HER2-enriched signature score</text>
<text x="407.30" y="971.80" font-size="5.6" text-anchor="start">p=0.091</text>
<line x1="530.20" y1="861.76" x2="557.60" y2="944.11" stroke="#3447a5" stroke-width="1.2"/>
<line x1="530.20" y1="898.09" x2="557.60" y2="944.11" stroke="#3447a5" stroke-width="1.2"/>
<line x1="530.20" y1="935.63" x2="557.60" y2="956.22" stroke="#3447a5" stroke-width="1.2"/>
<line x1="530.20" y1="867.82" x2="557.60" y2="896.88" stroke="#3447a5" stroke-width="1.2"/>
<line x1="530.20" y1="928.37" x2="557.60" y2="969.54" stroke="#3447a5" stroke-width="1.2"/>
<line x1="530.20" y1="912.62" x2="557.60" y2="919.28" stroke="#3447a5" stroke-width="1.2"/>
<line x1="530.20" y1="968.33" x2="557.60" y2="946.53" stroke="#ea1b23" stroke-width="1.2"/>
<line x1="530.20" y1="877.50" x2="557.60" y2="855.71" stroke="#ea1b23" stroke-width="1.2"/>
<line x1="530.20" y1="956.22" x2="557.60" y2="944.11" stroke="#ea1b23" stroke-width="1.2"/>
<line x1="530.20" y1="892.04" x2="557.60" y2="876.29" stroke="#ea1b23" stroke-width="1.2"/>
<line x1="530.20" y1="922.31" x2="557.60" y2="892.04" stroke="#ea1b23" stroke-width="1.2"/>
<line x1="530.20" y1="911.41" x2="557.60" y2="876.29" stroke="#ea1b23" stroke-width="1.2"/>
<rect x="514.50" y="850.60" width="58.90" height="123.40" fill="none" stroke="#111" stroke-width="1.1"/>
<line x1="510.30" y1="861.76" x2="514.50" y2="861.76" stroke="#111" stroke-width="1.0"/>
<text x="508.40" y="863.86" font-size="5.8" text-anchor="end">0.4</text>
<line x1="510.30" y1="885.98" x2="514.50" y2="885.98" stroke="#111" stroke-width="1.0"/>
<text x="508.40" y="888.08" font-size="5.8" text-anchor="end">0.2</text>
<line x1="510.30" y1="910.20" x2="514.50" y2="910.20" stroke="#111" stroke-width="1.0"/>
<text x="508.40" y="912.30" font-size="5.8" text-anchor="end">0.0</text>
<line x1="510.30" y1="934.42" x2="514.50" y2="934.42" stroke="#111" stroke-width="1.0"/>
<text x="508.40" y="936.52" font-size="5.8" text-anchor="end">−0.2</text>
<line x1="510.30" y1="958.64" x2="514.50" y2="958.64" stroke="#111" stroke-width="1.0"/>
<text x="508.40" y="960.74" font-size="5.8" text-anchor="end">−0.4</text>
<line x1="530.20" y1="974.00" x2="530.20" y2="977.50" stroke="#111" stroke-width="1.0"/>
<line x1="557.60" y1="974.00" x2="557.60" y2="977.50" stroke="#111" stroke-width="1.0"/>
<text x="526.80" y="986.60" font-size="6.85" text-anchor="middle">Baseline</text>
<text x="556.10" y="986.60" font-size="6.85" text-anchor="middle">Surgery</text>
<text x="493.60" y="909.50" font-size="8.5" text-anchor="middle" transform="rotate(-90 493.60 909.50)">HER2-enriched signature score</text>
<text x="516.50" y="971.40" font-size="5.6" text-anchor="start">p=0.5</text>
</svg></body></html>
